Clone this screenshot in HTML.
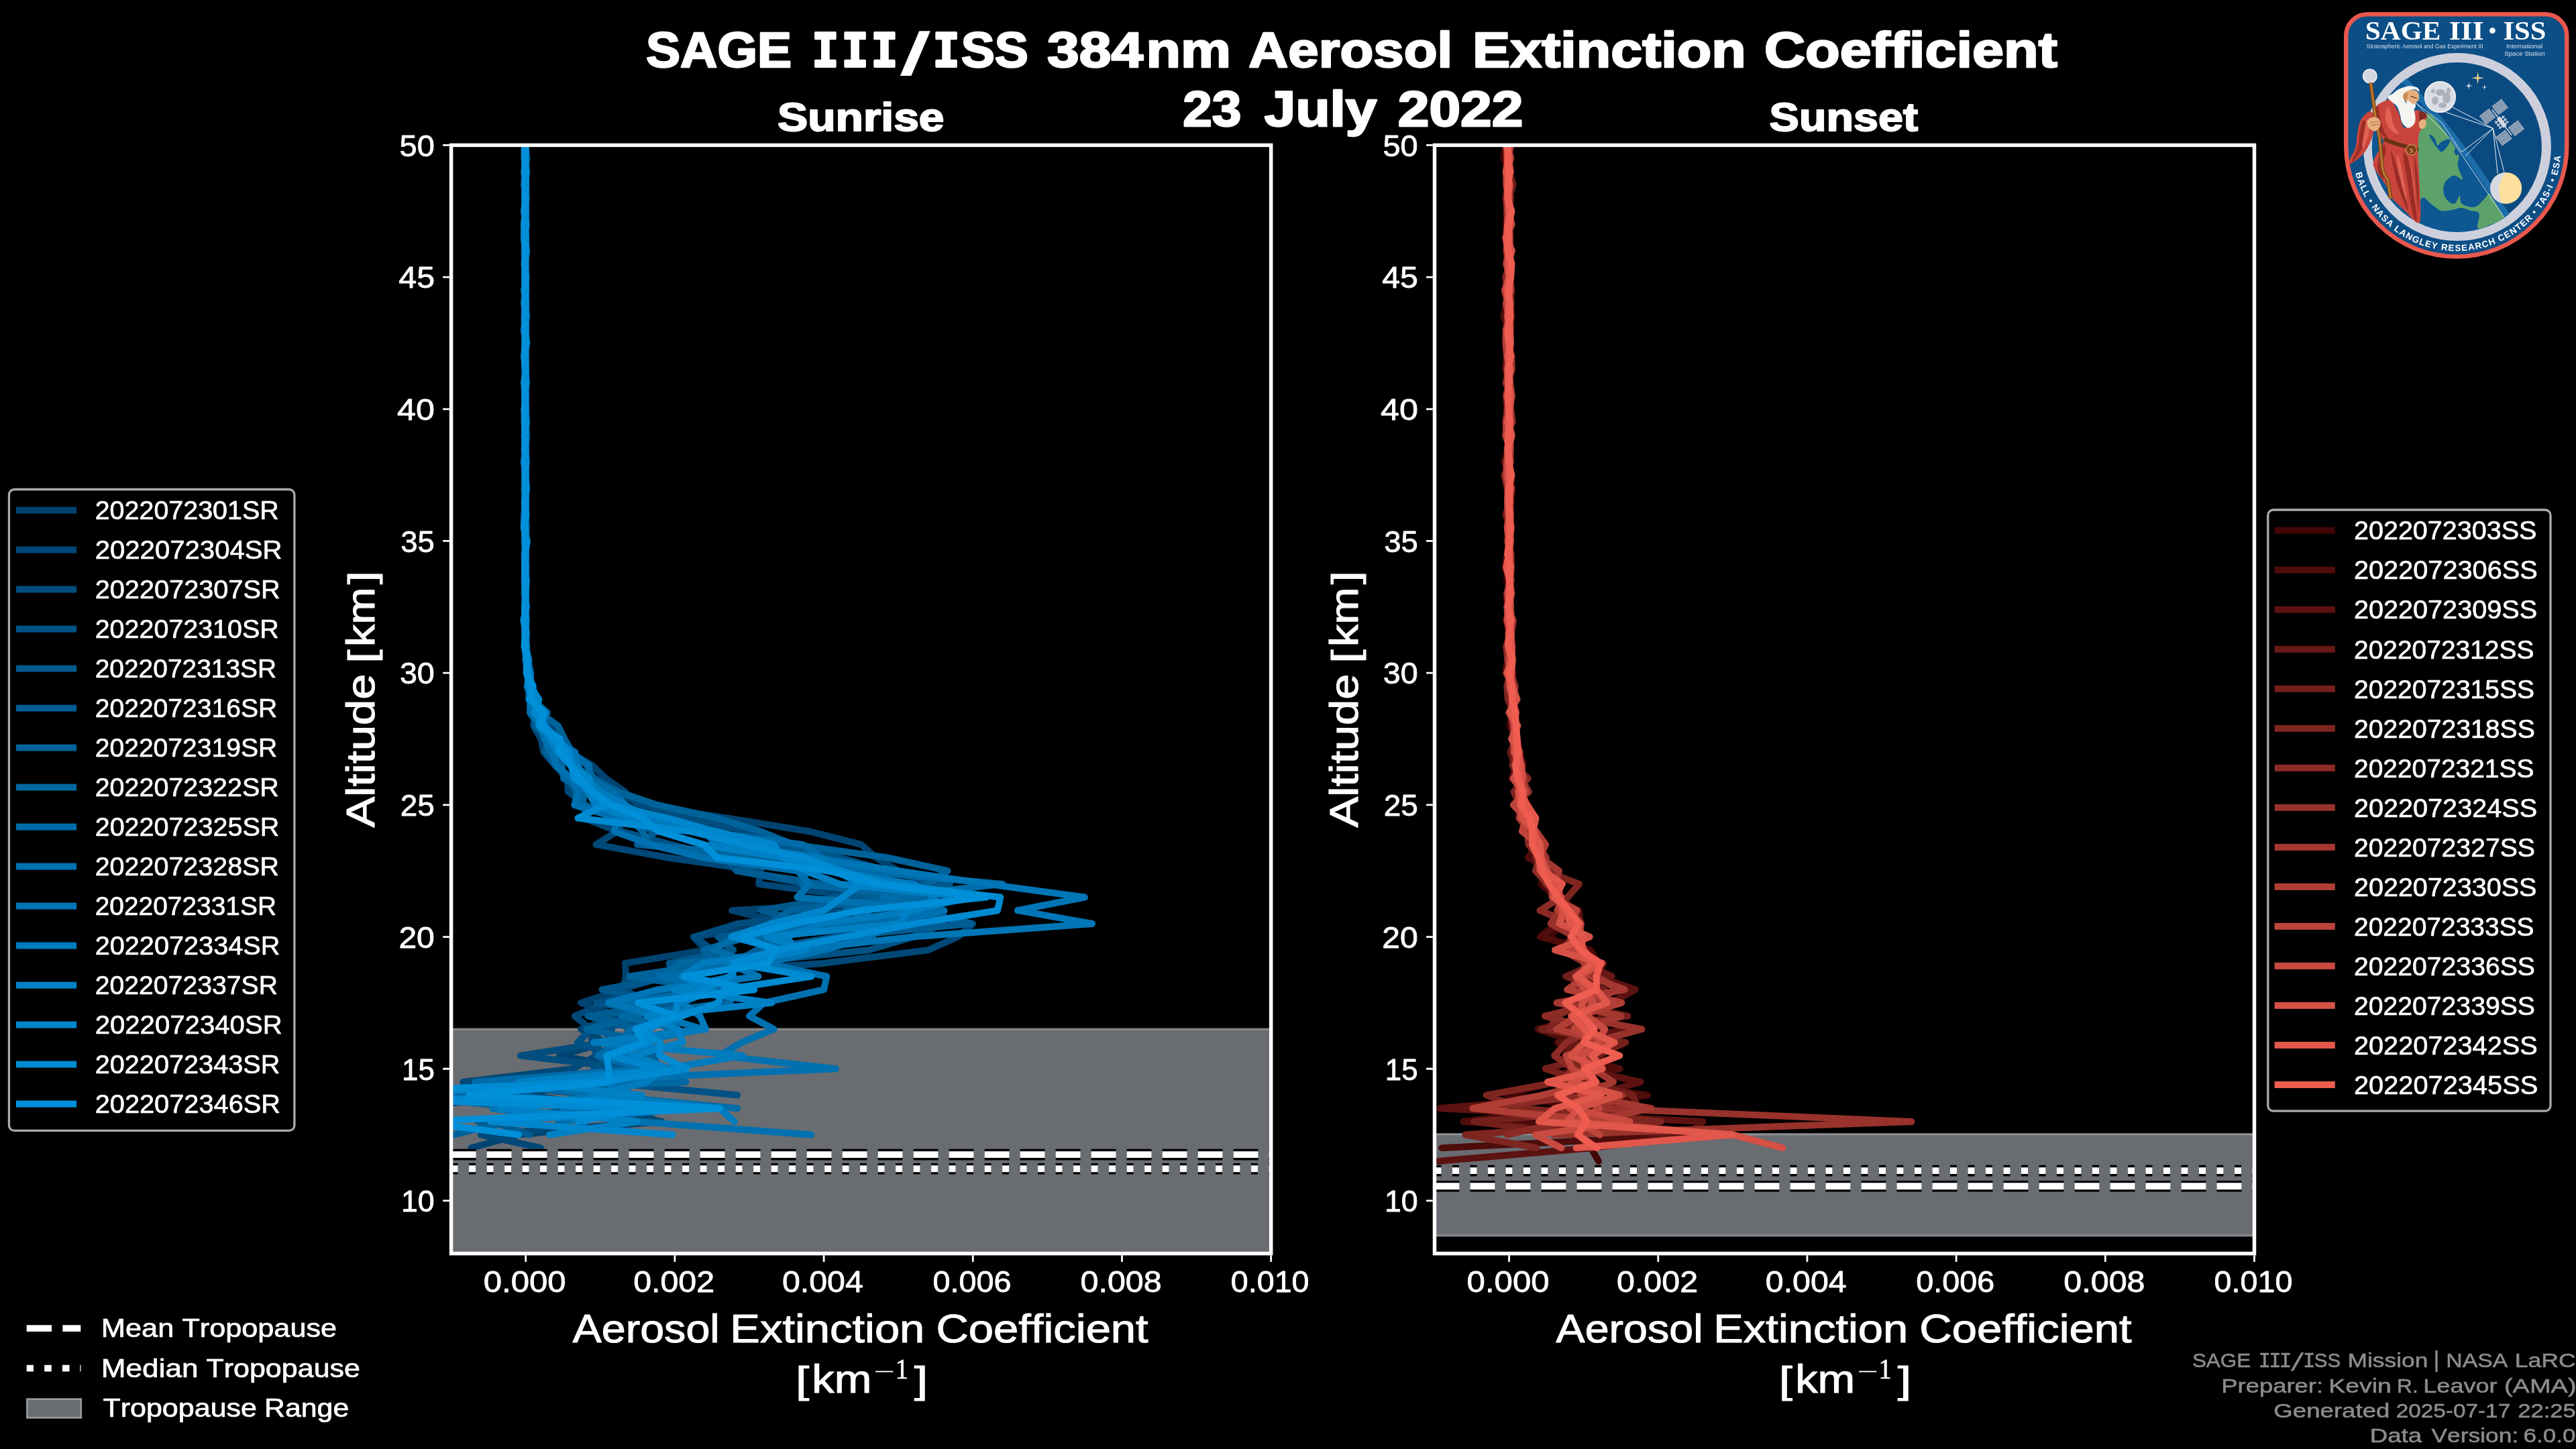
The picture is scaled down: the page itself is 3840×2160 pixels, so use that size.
<!DOCTYPE html>
<html><head><meta charset="utf-8"><title>SAGE III/ISS 384nm Aerosol Extinction Coefficient</title>
<style>html,body{margin:0;padding:0;background:#000;width:3840px;height:2160px;overflow:hidden}svg text{white-space:pre}</style></head>
<body>
<svg width="3840" height="2160" viewBox="0 0 3840 2160" style="position:absolute;left:0;top:0;font-kerning:none;font-variant-ligatures:none;">
<g style="will-change:transform">
<defs>
<clipPath id="cl"><rect x="672.6" y="216.4" width="1222.1" height="1652.1999999999998"/></clipPath>
<clipPath id="cr"><rect x="2138.5" y="216.4" width="1222.0" height="1652.1999999999998"/></clipPath>
</defs>
<g clip-path="url(#cl)"><rect x="672.6" y="1534.23" width="1222.1" height="413.05" fill="#696c71"/><rect x="672.6" y="1532.53" width="1222.1" height="2.0" fill="#7a7d81"/><rect x="672.6" y="1534.53" width="1222.1" height="1.1" fill="#a0a3a6"/><rect x="672.6" y="1946.98" width="1222.1" height="2.0" fill="#7a7d81"/><rect x="672.6" y="1945.88" width="1222.1" height="1.1" fill="#a0a3a6"/></g>
<g clip-path="url(#cr)"><rect x="2138.5" y="1690.79" width="1222.0" height="151.06" fill="#696c71"/><rect x="2138.5" y="1689.09" width="1222.0" height="2.0" fill="#7a7d81"/><rect x="2138.5" y="1691.09" width="1222.0" height="1.1" fill="#a0a3a6"/><rect x="2138.5" y="1841.55" width="1222.0" height="2.0" fill="#7a7d81"/><rect x="2138.5" y="1840.45" width="1222.0" height="1.1" fill="#a0a3a6"/></g>
<g clip-path="url(#cl)" fill="none" stroke-width="10" stroke-linejoin="round" stroke-linecap="round">
<polyline points="782.8,216.4 783.9,236.1 783.5,255.7 782.3,275.4 782.8,295.1 782.5,314.7 783.5,334.4 782.7,354.1 783.6,373.8 781.2,393.4 784.7,413.1 782.3,432.8 783.7,452.4 782.6,472.1 782.8,491.8 783.4,511.4 783.5,531.1 782.7,550.8 783.0,570.4 783.6,590.1 782.1,609.8 782.1,629.4 783.7,649.1 782.3,668.8 781.7,688.5 782.8,708.1 782.8,727.8 782.2,747.5 782.1,767.1 783.5,786.8 783.8,806.5 782.8,826.1 782.7,845.8 783.7,865.5 783.7,885.1 782.8,904.8 783.8,924.5 784.0,944.2 782.8,963.8 784.1,983.5 788.2,1003.2 791.7,1022.8 802.8,1042.5 803.7,1062.2 825.8,1081.8 838.4,1101.5 849.3,1121.2 882.5,1140.8 903.3,1160.5 931.5,1180.2 950.4,1199.9 1083.7,1219.5 1205.9,1239.2 1283.7,1258.9 1305.9,1278.5 1339.2,1298.2 1383.6,1317.9 1439.2,1337.5 1091.2,1357.2 1173.2,1376.9 1033.7,1396.5 1051.8,1416.2 932.0,1435.9 933.0,1455.5 927.7,1475.2 865.9,1494.9 922.1,1514.6 866.0,1534.2 902.2,1553.9 834.1,1573.6 941.3,1593.2 864.0,1612.9 785.3,1632.6 931.7,1652.2 982.8,1671.9 772.6,1691.6 702.6,1711.2" stroke="#004370"/>
<polyline points="783.5,216.4 783.0,236.1 782.7,255.7 782.1,275.4 784.1,295.1 781.5,314.7 783.7,334.4 783.7,354.1 781.4,373.8 783.1,393.4 781.8,413.1 783.5,432.8 784.0,452.4 784.3,472.1 781.1,491.8 783.1,511.4 783.6,531.1 784.1,550.8 783.0,570.4 782.4,590.1 783.5,609.8 782.9,629.4 782.9,649.1 782.5,668.8 783.6,688.5 783.2,708.1 783.0,727.8 783.0,747.5 782.1,767.1 783.0,786.8 784.2,806.5 782.7,826.1 782.1,845.8 784.7,865.5 783.2,885.1 785.1,904.8 782.7,924.5 783.0,944.2 782.0,963.8 787.7,983.5 791.4,1003.2 785.5,1022.8 791.0,1042.5 797.3,1062.2 795.2,1081.8 806.4,1101.5 810.4,1121.2 827.3,1140.8 845.6,1160.5 846.9,1180.2 873.1,1199.9 871.0,1219.5 920.2,1239.2 888.6,1258.9 996.1,1278.5 1134.0,1298.2 1131.0,1317.9 1283.6,1337.5 1353.6,1357.2 1450.3,1376.9 1428.1,1396.5 1383.6,1416.2 1228.1,1435.9 943.0,1455.5 921.3,1475.2 903.6,1494.9 856.8,1514.6 880.5,1534.2 882.7,1553.9 889.9,1573.6 853.9,1593.2 690.5,1612.9 891.2,1632.6 831.2,1652.2 986.8,1671.9 717.0,1691.6 805.9,1711.2" stroke="#004877"/>
<polyline points="782.3,216.4 784.6,236.1 782.9,255.7 784.3,275.4 784.2,295.1 781.9,314.7 783.5,334.4 783.1,354.1 783.3,373.8 783.3,393.4 783.0,413.1 783.1,432.8 781.7,452.4 783.2,472.1 782.3,491.8 783.3,511.4 782.6,531.1 783.7,550.8 783.5,570.4 783.2,590.1 783.3,609.8 783.1,629.4 782.7,649.1 783.1,668.8 782.7,688.5 783.6,708.1 783.0,727.8 783.7,747.5 781.9,767.1 784.3,786.8 782.2,806.5 782.9,826.1 783.1,845.8 782.8,865.5 783.6,885.1 782.6,904.8 782.5,924.5 782.7,944.2 784.6,963.8 784.5,983.5 784.7,1003.2 791.6,1022.8 791.4,1042.5 816.2,1062.2 808.8,1081.8 840.8,1101.5 849.8,1121.2 851.3,1140.8 888.1,1160.5 916.4,1180.2 959.2,1199.9 1027.4,1219.5 1113.8,1239.2 1158.6,1258.9 1251.9,1278.5 1324.0,1298.2 1397.9,1317.9 1243.3,1337.5 1264.9,1357.2 1100.2,1376.9 1035.7,1396.5 1062.1,1416.2 1069.7,1435.9 992.2,1455.5 924.7,1475.2 976.7,1494.9 887.8,1514.6 912.0,1534.2 903.1,1553.9 775.8,1573.6 942.1,1593.2 746.2,1612.9 785.8,1632.6 592.3,1652.2 631.2,1671.9" stroke="#004d7e"/>
<polyline points="782.0,216.4 783.6,236.1 783.8,255.7 782.5,275.4 783.8,295.1 782.3,314.7 781.5,334.4 783.4,354.1 783.1,373.8 782.5,393.4 783.3,413.1 783.3,432.8 782.1,452.4 782.0,472.1 783.0,491.8 782.7,511.4 782.7,531.1 783.9,550.8 784.2,570.4 782.3,590.1 783.8,609.8 783.6,629.4 783.5,649.1 783.8,668.8 782.5,688.5 783.9,708.1 784.6,727.8 783.3,747.5 782.5,767.1 783.8,786.8 784.0,806.5 783.2,826.1 782.7,845.8 784.7,865.5 781.6,885.1 784.1,904.8 782.9,924.5 782.3,944.2 784.6,963.8 785.0,983.5 784.8,1003.2 792.4,1022.8 790.2,1042.5 789.8,1062.2 802.6,1081.8 812.1,1101.5 823.0,1121.2 832.3,1140.8 845.4,1160.5 862.1,1180.2 871.4,1199.9 917.5,1219.5 925.4,1239.2 999.1,1258.9 1080.4,1278.5 1097.8,1298.2 1203.9,1317.9 1379.0,1337.5 1405.9,1357.2 1406.5,1376.9 1361.4,1396.5 1294.8,1416.2 1103.6,1435.9 991.5,1455.5 1020.4,1475.2 889.3,1494.9 1006.8,1514.6 881.4,1534.2 861.0,1553.9 915.9,1573.6 885.0,1593.2 897.3,1612.9 1099.2,1632.6" stroke="#005285"/>
<polyline points="783.2,216.4 785.6,236.1 781.1,255.7 783.7,275.4 782.4,295.1 783.2,314.7 781.4,334.4 782.5,354.1 783.5,373.8 782.8,393.4 784.4,413.1 782.0,432.8 783.4,452.4 785.3,472.1 781.7,491.8 782.7,511.4 783.1,531.1 783.0,550.8 783.8,570.4 783.0,590.1 782.5,609.8 783.5,629.4 785.2,649.1 783.6,668.8 780.6,688.5 783.8,708.1 782.2,727.8 784.0,747.5 782.8,767.1 785.0,786.8 783.5,806.5 783.9,826.1 783.2,845.8 783.2,865.5 783.6,885.1 784.3,904.8 783.4,924.5 782.9,944.2 784.5,963.8 784.7,983.5 786.7,1003.2 788.2,1022.8 794.4,1042.5 802.2,1062.2 802.6,1081.8 839.4,1101.5 842.1,1121.2 851.5,1140.8 879.8,1160.5 892.0,1180.2 930.2,1199.9 946.6,1219.5 1071.7,1239.2 1131.3,1258.9 1242.5,1278.5 1324.5,1298.2 1415.8,1317.9 1250.1,1337.5 1135.3,1357.2 1206.6,1376.9 1070.8,1396.5 1093.2,1416.2 997.4,1435.9 1003.5,1455.5 897.7,1475.2 989.1,1494.9 897.2,1514.6 940.6,1534.2 921.5,1553.9 890.2,1573.6 921.4,1593.2 855.7,1612.9 948.8,1632.6 869.1,1652.2 712.7,1671.9" stroke="#00588c"/>
<polyline points="782.4,216.4 784.3,236.1 782.3,255.7 783.8,275.4 782.9,295.1 782.4,314.7 782.4,334.4 783.1,354.1 783.0,373.8 783.4,393.4 781.8,413.1 782.8,432.8 782.9,452.4 784.3,472.1 780.6,491.8 784.0,511.4 782.2,531.1 783.6,550.8 782.4,570.4 783.5,590.1 784.2,609.8 783.0,629.4 783.4,649.1 783.3,668.8 782.4,688.5 783.8,708.1 782.7,727.8 782.5,747.5 783.3,767.1 782.9,786.8 783.9,806.5 782.9,826.1 782.8,845.8 784.6,865.5 783.7,885.1 784.2,904.8 783.5,924.5 783.1,944.2 782.9,963.8 784.9,983.5 789.1,1003.2 789.3,1022.8 787.8,1042.5 799.5,1062.2 797.1,1081.8 816.1,1101.5 813.3,1121.2 828.5,1140.8 850.1,1160.5 857.5,1180.2 862.1,1199.9 920.2,1219.5 979.1,1239.2 949.8,1258.9 1164.5,1278.5 1099.2,1298.2 1225.4,1317.9 1310.0,1337.5 1358.2,1357.2 1447.3,1376.9 1248.3,1396.5 1128.5,1416.2 1092.2,1435.9 987.0,1455.5 1025.7,1475.2 1021.4,1494.9 876.4,1514.6 950.3,1534.2 938.1,1553.9 974.6,1573.6 981.7,1593.2 815.2,1612.9 770.2,1632.6 934.2,1652.2 733.0,1671.9 789.2,1691.6" stroke="#005d93"/>
<polyline points="783.7,216.4 783.9,236.1 782.7,255.7 782.7,275.4 783.3,295.1 781.2,314.7 783.4,334.4 781.9,354.1 785.1,373.8 782.8,393.4 783.1,413.1 782.7,432.8 781.0,452.4 784.1,472.1 784.0,491.8 782.1,511.4 783.8,531.1 783.4,550.8 781.6,570.4 784.2,590.1 783.8,609.8 783.0,629.4 783.0,649.1 783.8,668.8 781.6,688.5 783.6,708.1 783.9,727.8 781.8,747.5 784.4,767.1 782.4,786.8 781.6,806.5 783.6,826.1 782.2,845.8 783.8,865.5 782.0,885.1 784.5,904.8 782.2,924.5 783.9,944.2 782.5,963.8 785.0,983.5 789.6,1003.2 790.9,1022.8 797.3,1042.5 804.3,1062.2 831.7,1081.8 841.5,1101.5 852.8,1121.2 875.2,1140.8 884.2,1160.5 921.4,1180.2 979.7,1199.9 1069.0,1219.5 1133.3,1239.2 1183.0,1258.9 1322.8,1278.5 1412.5,1298.2 1382.4,1317.9 1337.2,1337.5 1177.2,1357.2 1148.1,1376.9 1115.4,1396.5 1049.0,1416.2 1069.5,1435.9 938.2,1455.5 1072.3,1475.2 916.6,1494.9 953.5,1514.6 874.4,1534.2 971.3,1553.9 964.1,1573.6 959.4,1593.2 931.4,1612.9 589.5,1632.6 787.4,1652.2 757.4,1671.9 675.5,1691.6" stroke="#00629a"/>
<polyline points="783.7,216.4 782.7,236.1 782.9,255.7 783.3,275.4 782.0,295.1 782.5,314.7 782.4,334.4 783.5,354.1 783.0,373.8 783.4,393.4 783.7,413.1 781.7,432.8 782.9,452.4 783.1,472.1 781.9,491.8 782.9,511.4 783.9,531.1 783.7,550.8 783.8,570.4 782.9,590.1 783.0,609.8 784.0,629.4 782.5,649.1 783.6,668.8 784.1,688.5 782.5,708.1 782.8,727.8 783.2,747.5 783.7,767.1 783.4,786.8 783.2,806.5 783.7,826.1 781.7,845.8 782.9,865.5 783.5,885.1 782.4,904.8 782.3,924.5 782.5,944.2 782.7,963.8 785.1,983.5 784.7,1003.2 791.2,1022.8 797.7,1042.5 796.2,1062.2 813.1,1081.8 814.0,1101.5 818.1,1121.2 837.4,1140.8 840.2,1160.5 872.4,1180.2 867.1,1199.9 937.7,1219.5 957.9,1239.2 967.8,1258.9 1140.5,1278.5 1202.5,1298.2 1195.7,1317.9 1391.4,1337.5 1260.8,1357.2 1340.1,1376.9 1116.9,1396.5 1202.2,1416.2 1012.1,1435.9 990.3,1455.5 1088.5,1475.2 1088.8,1494.9 926.2,1514.6 1010.9,1534.2 939.4,1553.9 926.8,1573.6 977.6,1593.2 1022.4,1612.9 609.8,1632.6 1016.5,1652.2 832.5,1671.9" stroke="#0067a1"/>
<polyline points="781.7,216.4 784.4,236.1 783.8,255.7 781.7,275.4 784.5,295.1 782.4,314.7 782.9,334.4 784.0,354.1 782.7,373.8 783.2,393.4 784.0,413.1 783.6,432.8 783.4,452.4 781.6,472.1 782.0,491.8 784.1,511.4 781.8,531.1 783.4,550.8 782.0,570.4 783.2,590.1 781.9,609.8 784.7,629.4 781.7,649.1 783.4,668.8 782.8,688.5 784.2,708.1 781.5,727.8 783.5,747.5 782.8,767.1 783.7,786.8 783.4,806.5 782.7,826.1 783.5,845.8 782.7,865.5 783.7,885.1 782.9,904.8 782.7,924.5 783.3,944.2 783.5,963.8 788.5,983.5 784.8,1003.2 792.9,1022.8 800.8,1042.5 796.2,1062.2 813.5,1081.8 827.9,1101.5 848.6,1121.2 878.4,1140.8 876.2,1160.5 913.5,1180.2 932.7,1199.9 966.3,1219.5 1046.1,1239.2 1196.5,1258.9 1225.1,1278.5 1281.0,1298.2 1494.6,1317.9 1316.1,1337.5 1392.8,1357.2 1266.6,1376.9 1095.9,1396.5 1063.9,1416.2 1122.1,1435.9 982.3,1455.5 1077.4,1475.2 928.9,1494.9 1013.0,1514.6 940.5,1534.2 926.7,1553.9 891.9,1573.6 957.9,1593.2 708.4,1612.9 895.4,1632.6 1099.2,1652.2" stroke="#006ca9"/>
<polyline points="783.4,216.4 781.7,236.1 784.6,255.7 782.1,275.4 782.2,295.1 784.2,314.7 783.9,334.4 782.5,354.1 782.4,373.8 783.1,393.4 782.4,413.1 782.9,432.8 784.3,452.4 782.9,472.1 783.2,491.8 783.3,511.4 782.9,531.1 783.8,550.8 783.6,570.4 782.6,590.1 783.3,609.8 785.0,629.4 782.9,649.1 783.0,668.8 784.9,688.5 782.6,708.1 782.4,727.8 784.0,747.5 782.1,767.1 783.1,786.8 783.5,806.5 783.0,826.1 782.6,845.8 782.9,865.5 782.8,885.1 784.4,904.8 782.3,924.5 783.1,944.2 785.2,963.8 783.3,983.5 790.8,1003.2 791.5,1022.8 790.7,1042.5 790.9,1062.2 806.9,1081.8 811.5,1101.5 823.9,1121.2 828.6,1140.8 852.0,1160.5 862.4,1180.2 856.2,1199.9 919.9,1219.5 915.7,1239.2 969.5,1258.9 1047.8,1278.5 1189.1,1298.2 1206.8,1317.9 1188.5,1337.5 1407.6,1357.2 1328.4,1376.9 1296.4,1396.5 1228.0,1416.2 1139.1,1435.9 1232.3,1455.5 1228.1,1475.2 1139.2,1494.9 1117.0,1514.6 1153.7,1534.2 1105.9,1553.9 1072.6,1573.6 1245.9,1593.2 805.9,1612.9 917.0,1632.6 839.2,1652.2 950.4,1671.9 1209.2,1691.6" stroke="#0071b0"/>
<polyline points="782.5,216.4 782.6,236.1 783.0,255.7 781.2,275.4 784.5,295.1 781.6,314.7 782.7,334.4 783.9,354.1 782.7,373.8 782.9,393.4 782.4,413.1 781.7,432.8 783.4,452.4 783.7,472.1 781.9,491.8 784.3,511.4 781.6,531.1 782.7,550.8 783.4,570.4 782.8,590.1 783.6,609.8 782.2,629.4 782.4,649.1 781.6,668.8 782.4,688.5 782.3,708.1 782.1,727.8 783.6,747.5 782.3,767.1 781.6,786.8 785.7,806.5 781.6,826.1 782.5,845.8 784.4,865.5 783.8,885.1 782.0,904.8 782.2,924.5 782.6,944.2 784.4,963.8 784.2,983.5 786.1,1003.2 791.4,1022.8 798.6,1042.5 796.6,1062.2 813.7,1081.8 818.2,1101.5 857.2,1121.2 861.1,1140.8 872.1,1160.5 884.6,1180.2 919.6,1199.9 917.3,1219.5 1049.8,1239.2 1068.4,1258.9 1205.9,1278.5 1339.2,1298.2 1472.5,1317.9 1617.0,1337.5 1517.0,1357.2 1628.1,1376.9 1361.4,1396.5 1183.7,1416.2 1084.3,1435.9 1130.5,1455.5 981.1,1475.2 907.1,1494.9 981.7,1514.6 1048.2,1534.2 943.4,1553.9 931.9,1573.6 990.8,1593.2 914.8,1612.9 907.3,1632.6 734.0,1652.2 872.4,1671.9" stroke="#0076b7"/>
<polyline points="783.0,216.4 782.3,236.1 782.1,255.7 783.2,275.4 783.5,295.1 783.2,314.7 783.2,334.4 783.2,354.1 784.9,373.8 782.5,393.4 783.9,413.1 784.2,432.8 782.6,452.4 783.3,472.1 783.7,491.8 784.1,511.4 782.9,531.1 783.3,550.8 783.0,570.4 782.0,590.1 784.3,609.8 782.5,629.4 781.8,649.1 783.3,668.8 781.5,688.5 782.7,708.1 783.3,727.8 782.3,747.5 784.3,767.1 781.5,786.8 783.9,806.5 783.4,826.1 784.4,845.8 783.7,865.5 783.3,885.1 783.3,904.8 783.2,924.5 784.3,944.2 782.4,963.8 786.4,983.5 786.3,1003.2 791.7,1022.8 794.2,1042.5 813.9,1062.2 808.6,1081.8 832.5,1101.5 842.7,1121.2 858.8,1140.8 872.9,1160.5 894.7,1180.2 932.6,1199.9 950.9,1219.5 1064.8,1239.2 1085.2,1258.9 1219.0,1278.5 1232.0,1298.2 1362.8,1317.9 1393.1,1337.5 1370.2,1357.2 1223.6,1376.9 1172.3,1396.5 1187.6,1416.2 1048.1,1435.9 1015.8,1455.5 1063.4,1475.2 1015.9,1494.9 1043.4,1514.6 1052.2,1534.2 885.2,1553.9 1107.0,1573.6 991.7,1593.2 963.9,1612.9 883.9,1632.6 1072.6,1652.2 1094.8,1671.9" stroke="#007bbe"/>
<polyline points="782.5,216.4 783.1,236.1 781.7,255.7 783.6,275.4 782.6,295.1 783.2,314.7 783.1,334.4 782.0,354.1 784.2,373.8 781.7,393.4 784.0,413.1 781.3,432.8 783.7,452.4 782.1,472.1 783.3,491.8 782.4,511.4 781.4,531.1 782.6,550.8 783.2,570.4 783.5,590.1 781.7,609.8 781.7,629.4 782.8,649.1 783.0,668.8 782.6,688.5 782.6,708.1 784.0,727.8 783.7,747.5 783.6,767.1 782.2,786.8 783.5,806.5 782.9,826.1 782.0,845.8 784.3,865.5 783.0,885.1 782.9,904.8 784.6,924.5 783.5,944.2 783.9,963.8 786.6,983.5 788.0,1003.2 786.4,1022.8 793.4,1042.5 804.6,1062.2 802.9,1081.8 820.7,1101.5 831.9,1121.2 852.4,1140.8 861.9,1160.5 876.5,1180.2 887.8,1199.9 940.4,1219.5 984.4,1239.2 1046.5,1258.9 1171.5,1278.5 1199.8,1298.2 1251.6,1317.9 1450.7,1337.5 1353.3,1357.2 1342.2,1376.9 1143.1,1396.5 1202.4,1416.2 1092.5,1435.9 1092.8,1455.5 1005.4,1475.2 1150.4,1494.9 964.4,1514.6 1010.2,1534.2 1018.0,1553.9 942.6,1573.6 998.3,1593.2 774.4,1612.9 957.0,1632.6 746.8,1652.2 950.0,1671.9 819.2,1691.6" stroke="#0081c5"/>
<polyline points="781.7,216.4 781.7,236.1 782.3,255.7 783.5,275.4 782.9,295.1 783.1,314.7 781.2,334.4 781.2,354.1 782.9,373.8 782.6,393.4 782.5,413.1 783.3,432.8 782.7,452.4 782.0,472.1 782.5,491.8 783.2,511.4 782.9,531.1 782.9,550.8 784.9,570.4 782.2,590.1 783.4,609.8 782.1,629.4 783.0,649.1 783.5,668.8 783.4,688.5 782.8,708.1 783.5,727.8 783.0,747.5 781.5,767.1 780.8,786.8 785.8,806.5 783.1,826.1 783.1,845.8 781.7,865.5 782.5,885.1 784.6,904.8 780.3,924.5 783.8,944.2 783.8,963.8 785.1,983.5 788.8,1003.2 789.9,1022.8 803.4,1042.5 796.8,1062.2 810.1,1081.8 830.8,1101.5 849.7,1121.2 850.8,1140.8 878.8,1160.5 881.7,1180.2 909.2,1199.9 995.0,1219.5 1065.2,1239.2 1153.4,1258.9 1166.4,1278.5 1245.3,1298.2 1283.7,1317.9 1255.9,1337.5 1228.1,1357.2 1150.3,1376.9 1090.3,1396.5 1165.8,1416.2 1097.1,1435.9 1088.1,1455.5 1046.4,1475.2 1009.4,1494.9 1007.2,1514.6 967.5,1534.2 969.6,1553.9 908.8,1573.6 981.7,1593.2 872.9,1612.9 561.6,1632.6 1023.7,1652.2 731.8,1671.9 1002.6,1691.6" stroke="#0086cc"/>
<polyline points="782.6,216.4 782.7,236.1 783.0,255.7 782.7,275.4 782.5,295.1 781.5,314.7 784.7,334.4 781.0,354.1 783.1,373.8 783.3,393.4 783.0,413.1 783.3,432.8 783.4,452.4 783.8,472.1 782.9,491.8 785.3,511.4 781.4,531.1 783.6,550.8 782.5,570.4 782.7,590.1 783.3,609.8 784.1,629.4 782.1,649.1 782.7,668.8 783.8,688.5 783.3,708.1 784.7,727.8 783.5,747.5 783.2,767.1 782.8,786.8 783.4,806.5 782.9,826.1 782.0,845.8 783.5,865.5 782.9,885.1 783.1,904.8 782.9,924.5 784.8,944.2 783.4,963.8 786.6,983.5 785.4,1003.2 788.8,1022.8 794.2,1042.5 804.4,1062.2 810.1,1081.8 825.0,1101.5 844.9,1121.2 851.5,1140.8 856.3,1160.5 883.5,1180.2 902.3,1199.9 861.5,1219.5 1028.1,1239.2 1110.3,1258.9 1197.0,1278.5 1253.4,1298.2 1320.6,1317.9 1491.4,1337.5 1487.0,1357.2 1364.8,1376.9 1260.3,1396.5 1157.6,1416.2 1093.1,1435.9 1209.8,1455.5 1079.7,1475.2 1070.2,1494.9 1016.7,1514.6 951.8,1534.2 984.0,1553.9 983.1,1573.6 1023.5,1593.2 896.9,1612.9 422.9,1632.6 962.7,1652.2 862.1,1671.9" stroke="#008bd3"/>
<polyline points="783.8,216.4 783.0,236.1 784.7,255.7 783.4,275.4 783.7,295.1 783.3,314.7 781.6,334.4 783.9,354.1 783.0,373.8 782.4,393.4 783.5,413.1 783.1,432.8 782.5,452.4 783.0,472.1 782.7,491.8 783.2,511.4 782.5,531.1 783.6,550.8 781.2,570.4 783.3,590.1 781.5,609.8 783.1,629.4 783.5,649.1 783.0,668.8 783.0,688.5 783.2,708.1 784.4,727.8 781.8,747.5 784.3,767.1 781.5,786.8 783.2,806.5 783.3,826.1 782.4,845.8 783.6,865.5 783.7,885.1 782.0,904.8 783.5,924.5 782.8,944.2 781.6,963.8 785.7,983.5 785.2,1003.2 794.8,1022.8 789.2,1042.5 810.5,1062.2 804.2,1081.8 835.0,1101.5 832.8,1121.2 850.1,1140.8 864.5,1160.5 883.5,1180.2 911.2,1199.9 958.0,1219.5 982.0,1239.2 1048.3,1258.9 1068.8,1278.5 1237.0,1298.2 1305.9,1317.9 1470.3,1337.5 1283.7,1357.2 1183.7,1376.9 1105.9,1396.5 1156.4,1416.2 1144.8,1435.9 1019.8,1455.5 1124.2,1475.2 951.2,1494.9 1006.9,1514.6 947.9,1534.2 960.6,1553.9 904.6,1573.6 907.3,1593.2 907.9,1612.9 698.9,1632.6 1072.6,1652.2 623.2,1671.9 772.9,1691.6" stroke="#0090da"/>
</g>
<g clip-path="url(#cr)" fill="none" stroke-width="10" stroke-linejoin="round" stroke-linecap="round">
<polyline points="2244.7,216.4 2241.2,236.1 2248.6,255.7 2248.8,275.4 2243.4,295.1 2249.0,314.7 2244.3,334.4 2248.8,354.1 2249.1,373.8 2249.5,393.4 2249.3,413.1 2245.9,432.8 2251.4,452.4 2246.4,472.1 2249.8,491.8 2250.2,511.4 2247.1,531.1 2244.9,550.8 2251.1,570.4 2244.7,590.1 2246.7,609.8 2245.7,629.4 2251.7,649.1 2247.5,668.8 2242.2,688.5 2252.2,708.1 2254.3,727.8 2253.1,747.5 2246.3,767.1 2249.6,786.8 2250.3,806.5 2251.3,826.1 2248.6,845.8 2245.8,865.5 2251.9,885.1 2250.5,904.8 2244.7,924.5 2249.2,944.2 2250.7,963.8 2249.6,983.5 2252.0,1003.2 2254.2,1022.8 2254.7,1042.5 2253.7,1062.2 2250.4,1081.8 2261.6,1101.5 2265.8,1121.2 2271.2,1140.8 2261.8,1160.5 2266.4,1180.2 2278.0,1199.9 2283.2,1219.5 2281.8,1239.2 2293.4,1258.9 2284.7,1278.5 2307.8,1298.2 2297.0,1317.9 2318.4,1337.5 2324.6,1357.2 2329.0,1376.9 2309.6,1396.5 2342.4,1416.2 2365.8,1435.9 2357.4,1455.5 2355.8,1475.2 2375.7,1494.9 2373.9,1514.6 2382.8,1534.2 2321.4,1553.9 2364.0,1573.6 2340.0,1593.2 2315.6,1612.9 2246.0,1632.6 2369.1,1652.2 2247.4,1671.9 2427.3,1691.6 2371.8,1711.2 2382.9,1730.9" stroke="#420606"/>
<polyline points="2253.5,216.4 2244.3,236.1 2248.4,255.7 2245.8,275.4 2248.3,295.1 2248.1,314.7 2251.4,334.4 2243.5,354.1 2249.2,373.8 2252.8,393.4 2246.0,413.1 2248.4,432.8 2245.9,452.4 2241.4,472.1 2249.6,491.8 2251.7,511.4 2246.6,531.1 2243.6,550.8 2250.4,570.4 2248.5,590.1 2251.6,609.8 2250.8,629.4 2247.6,649.1 2250.2,668.8 2243.3,688.5 2253.2,708.1 2248.6,727.8 2252.1,747.5 2251.4,767.1 2247.7,786.8 2248.8,806.5 2246.5,826.1 2243.6,845.8 2249.8,865.5 2249.5,885.1 2246.0,904.8 2252.4,924.5 2249.4,944.2 2251.4,963.8 2247.0,983.5 2244.4,1003.2 2255.8,1022.8 2254.7,1042.5 2254.0,1062.2 2254.7,1081.8 2256.9,1101.5 2259.5,1121.2 2259.6,1140.8 2253.5,1160.5 2273.5,1180.2 2257.3,1199.9 2275.0,1219.5 2278.8,1239.2 2290.4,1258.9 2278.1,1278.5 2315.9,1298.2 2313.3,1317.9 2327.5,1337.5 2343.7,1357.2 2320.9,1376.9 2296.0,1396.5 2370.5,1416.2 2382.7,1435.9 2386.0,1455.5 2347.9,1475.2 2363.4,1494.9 2364.9,1514.6 2292.9,1534.2 2349.7,1553.9 2337.3,1573.6 2414.8,1593.2 2311.4,1612.9 2455.7,1632.6 2329.9,1652.2 2181.5,1671.9 2538.4,1691.6 2149.3,1711.2" stroke="#4e0c0b"/>
<polyline points="2253.8,216.4 2246.6,236.1 2246.2,255.7 2252.7,275.4 2248.7,295.1 2245.9,314.7 2246.9,334.4 2248.7,354.1 2252.1,373.8 2248.0,393.4 2251.5,413.1 2253.6,432.8 2252.2,452.4 2253.0,472.1 2252.3,491.8 2244.5,511.4 2254.0,531.1 2249.6,550.8 2249.3,570.4 2246.7,590.1 2245.9,609.8 2247.4,629.4 2250.2,649.1 2246.4,668.8 2248.2,688.5 2248.5,708.1 2252.1,727.8 2248.7,747.5 2249.8,767.1 2253.7,786.8 2248.4,806.5 2252.1,826.1 2246.7,845.8 2251.7,865.5 2250.2,885.1 2250.9,904.8 2249.1,924.5 2247.9,944.2 2250.6,963.8 2249.7,983.5 2255.3,1003.2 2255.5,1022.8 2249.5,1042.5 2259.7,1062.2 2255.1,1081.8 2261.8,1101.5 2258.9,1121.2 2257.1,1140.8 2273.3,1160.5 2269.7,1180.2 2262.9,1199.9 2266.0,1219.5 2282.5,1239.2 2281.1,1258.9 2296.0,1278.5 2310.2,1298.2 2328.4,1317.9 2315.0,1337.5 2353.5,1357.2 2356.0,1376.9 2342.8,1396.5 2329.3,1416.2 2390.4,1435.9 2380.3,1455.5 2437.9,1475.2 2400.6,1494.9 2385.7,1514.6 2423.8,1534.2 2324.2,1553.9 2387.1,1573.6 2355.4,1593.2 2445.7,1612.9 2375.5,1632.6 2146.3,1652.2 2538.4,1671.9 2516.2,1691.6 2371.8,1711.2 2144.1,1730.9" stroke="#5b1211"/>
<polyline points="2248.7,216.4 2249.7,236.1 2248.4,255.7 2245.6,275.4 2252.5,295.1 2248.5,314.7 2248.2,334.4 2250.2,354.1 2246.5,373.8 2253.8,393.4 2247.9,413.1 2249.5,432.8 2249.2,452.4 2245.9,472.1 2245.9,491.8 2249.7,511.4 2249.3,531.1 2252.1,550.8 2249.2,570.4 2245.7,590.1 2250.8,609.8 2250.6,629.4 2251.2,649.1 2249.3,668.8 2245.5,688.5 2252.7,708.1 2246.2,727.8 2251.1,747.5 2244.3,767.1 2252.0,786.8 2246.4,806.5 2252.6,826.1 2253.2,845.8 2251.5,865.5 2245.6,885.1 2247.5,904.8 2247.4,924.5 2252.2,944.2 2250.5,963.8 2250.4,983.5 2251.2,1003.2 2253.6,1022.8 2255.3,1042.5 2260.8,1062.2 2254.9,1081.8 2259.0,1101.5 2251.5,1121.2 2257.6,1140.8 2261.7,1160.5 2260.4,1180.2 2271.4,1199.9 2281.5,1219.5 2276.7,1239.2 2284.8,1258.9 2290.2,1278.5 2302.5,1298.2 2303.1,1317.9 2325.1,1337.5 2330.1,1357.2 2341.9,1376.9 2358.5,1396.5 2350.3,1416.2 2360.9,1435.9 2402.8,1455.5 2357.8,1475.2 2386.4,1494.9 2352.3,1514.6 2344.1,1534.2 2347.7,1553.9 2333.0,1573.6 2360.8,1593.2 2328.5,1612.9 2322.0,1632.6 2462.6,1652.2 2316.4,1671.9 2489.5,1691.6" stroke="#671916"/>
<polyline points="2250.9,216.4 2246.7,236.1 2249.6,255.7 2255.5,275.4 2249.6,295.1 2251.3,314.7 2249.0,334.4 2251.1,354.1 2245.5,373.8 2247.5,393.4 2250.4,413.1 2250.9,432.8 2247.7,452.4 2248.9,472.1 2248.3,491.8 2248.9,511.4 2246.2,531.1 2246.1,550.8 2249.7,570.4 2244.7,590.1 2247.7,609.8 2248.0,629.4 2246.9,649.1 2250.5,668.8 2248.1,688.5 2249.6,708.1 2246.9,727.8 2248.1,747.5 2251.2,767.1 2250.2,786.8 2248.3,806.5 2250.9,826.1 2249.9,845.8 2250.1,865.5 2253.8,885.1 2248.0,904.8 2251.7,924.5 2251.2,944.2 2249.6,963.8 2247.2,983.5 2253.9,1003.2 2252.7,1022.8 2254.1,1042.5 2255.6,1062.2 2257.2,1081.8 2255.2,1101.5 2263.0,1121.2 2254.3,1140.8 2267.2,1160.5 2259.1,1180.2 2269.7,1199.9 2281.1,1219.5 2280.0,1239.2 2286.2,1258.9 2300.8,1278.5 2298.7,1298.2 2308.1,1317.9 2317.0,1337.5 2350.7,1357.2 2345.2,1376.9 2356.7,1396.5 2333.2,1416.2 2379.2,1435.9 2334.3,1455.5 2391.9,1475.2 2333.1,1494.9 2426.4,1514.6 2297.7,1534.2 2423.2,1553.9 2380.1,1573.6 2303.6,1593.2 2367.4,1612.9 2434.7,1632.6 2441.2,1652.2 2197.2,1671.9 2347.0,1691.6" stroke="#731f1b"/>
<polyline points="2244.7,216.4 2246.3,236.1 2252.2,255.7 2246.8,275.4 2247.0,295.1 2246.7,314.7 2249.3,334.4 2248.9,354.1 2245.0,373.8 2251.8,393.4 2244.1,413.1 2247.7,432.8 2248.8,452.4 2251.8,472.1 2246.1,491.8 2248.9,511.4 2250.9,531.1 2248.8,550.8 2250.5,570.4 2250.0,590.1 2248.2,609.8 2249.5,629.4 2250.0,649.1 2247.6,668.8 2252.2,688.5 2242.4,708.1 2247.0,727.8 2252.0,747.5 2248.5,767.1 2246.6,786.8 2249.6,806.5 2250.8,826.1 2246.5,845.8 2250.7,865.5 2247.7,885.1 2248.4,904.8 2248.5,924.5 2252.0,944.2 2245.1,963.8 2248.8,983.5 2251.4,1003.2 2246.3,1022.8 2247.8,1042.5 2256.6,1062.2 2254.6,1081.8 2256.3,1101.5 2259.5,1121.2 2256.3,1140.8 2278.1,1160.5 2256.5,1180.2 2266.3,1199.9 2264.4,1219.5 2278.3,1239.2 2297.1,1258.9 2289.2,1278.5 2303.5,1298.2 2354.0,1317.9 2336.9,1337.5 2321.0,1357.2 2316.6,1376.9 2357.8,1396.5 2337.3,1416.2 2365.7,1435.9 2356.1,1455.5 2367.0,1475.2 2356.4,1494.9 2321.7,1514.6 2309.4,1534.2 2391.4,1553.9 2337.0,1573.6 2357.6,1593.2 2323.1,1612.9 2215.7,1632.6 2269.9,1652.2 2475.7,1671.9 2184.6,1691.6 2290.1,1711.2" stroke="#7f2520"/>
<polyline points="2245.8,216.4 2246.5,236.1 2246.8,255.7 2247.1,275.4 2245.8,295.1 2246.2,314.7 2247.5,334.4 2248.1,354.1 2246.9,373.8 2251.7,393.4 2247.1,413.1 2247.9,432.8 2245.8,452.4 2250.3,472.1 2244.6,491.8 2244.3,511.4 2246.0,531.1 2249.5,550.8 2244.6,570.4 2251.5,590.1 2247.0,609.8 2244.3,629.4 2248.0,649.1 2252.1,668.8 2245.0,688.5 2245.4,708.1 2249.7,727.8 2250.8,747.5 2249.9,767.1 2246.9,786.8 2248.8,806.5 2248.8,826.1 2250.8,845.8 2252.8,865.5 2247.0,885.1 2251.8,904.8 2246.9,924.5 2250.5,944.2 2245.7,963.8 2247.3,983.5 2250.6,1003.2 2247.4,1022.8 2255.5,1042.5 2250.9,1062.2 2255.7,1081.8 2256.0,1101.5 2257.2,1121.2 2261.3,1140.8 2267.3,1160.5 2279.1,1180.2 2257.0,1199.9 2276.5,1219.5 2276.7,1239.2 2278.7,1258.9 2294.5,1278.5 2288.9,1298.2 2306.7,1317.9 2327.3,1337.5 2295.6,1357.2 2341.3,1376.9 2345.8,1396.5 2328.9,1416.2 2363.6,1435.9 2358.7,1455.5 2349.9,1475.2 2384.2,1494.9 2303.0,1514.6 2374.7,1534.2 2335.2,1553.9 2317.2,1573.6 2344.7,1593.2 2327.5,1612.9 2366.8,1632.6 2210.3,1652.2 2333.1,1671.9 2246.9,1691.6" stroke="#8c2b26"/>
<polyline points="2246.9,216.4 2252.5,236.1 2244.9,255.7 2251.3,275.4 2249.0,295.1 2250.7,314.7 2247.9,334.4 2245.6,354.1 2247.0,373.8 2253.3,393.4 2249.6,413.1 2247.9,432.8 2252.3,452.4 2247.7,472.1 2248.7,491.8 2247.4,511.4 2253.2,531.1 2253.9,550.8 2247.1,570.4 2251.3,590.1 2252.1,609.8 2254.6,629.4 2243.8,649.1 2251.8,668.8 2251.4,688.5 2246.6,708.1 2252.0,727.8 2250.5,747.5 2252.0,767.1 2248.7,786.8 2251.7,806.5 2248.8,826.1 2252.2,845.8 2250.5,865.5 2249.7,885.1 2247.6,904.8 2255.8,924.5 2253.1,944.2 2253.4,963.8 2249.4,983.5 2251.4,1003.2 2258.6,1022.8 2256.4,1042.5 2253.7,1062.2 2259.1,1081.8 2260.3,1101.5 2261.5,1121.2 2260.9,1140.8 2273.5,1160.5 2270.9,1180.2 2270.4,1199.9 2269.7,1219.5 2283.4,1239.2 2292.2,1258.9 2305.0,1278.5 2300.9,1298.2 2326.2,1317.9 2323.7,1337.5 2326.2,1357.2 2311.5,1376.9 2346.6,1396.5 2340.4,1416.2 2370.5,1435.9 2380.9,1455.5 2410.3,1475.2 2370.0,1494.9 2343.4,1514.6 2447.4,1534.2 2373.2,1553.9 2369.6,1573.6 2366.7,1593.2 2330.7,1612.9 2418.7,1632.6 2382.9,1652.2 2849.5,1671.9 2316.2,1691.6" stroke="#98322b"/>
<polyline points="2251.7,216.4 2247.8,236.1 2248.3,255.7 2249.1,275.4 2246.3,295.1 2249.3,314.7 2248.4,334.4 2250.8,354.1 2248.9,373.8 2245.1,393.4 2250.2,413.1 2252.3,432.8 2244.7,452.4 2248.6,472.1 2249.6,491.8 2246.5,511.4 2248.9,531.1 2249.8,550.8 2246.6,570.4 2250.8,590.1 2250.3,609.8 2246.7,629.4 2250.3,649.1 2252.0,668.8 2248.9,688.5 2250.9,708.1 2251.0,727.8 2249.1,747.5 2252.2,767.1 2250.3,786.8 2247.7,806.5 2251.6,826.1 2251.6,845.8 2251.5,865.5 2248.4,885.1 2251.7,904.8 2253.5,924.5 2250.7,944.2 2254.0,963.8 2254.0,983.5 2250.7,1003.2 2255.0,1022.8 2253.2,1042.5 2259.7,1062.2 2256.7,1081.8 2257.7,1101.5 2261.8,1121.2 2263.5,1140.8 2267.9,1160.5 2270.3,1180.2 2264.7,1199.9 2275.2,1219.5 2286.6,1239.2 2293.1,1258.9 2297.2,1278.5 2324.0,1298.2 2318.5,1317.9 2320.9,1337.5 2340.8,1357.2 2357.0,1376.9 2354.6,1396.5 2332.2,1416.2 2372.8,1435.9 2370.4,1455.5 2421.9,1475.2 2320.5,1494.9 2416.6,1514.6 2355.6,1534.2 2403.6,1553.9 2357.0,1573.6 2375.0,1593.2 2405.0,1612.9 2356.4,1632.6 2460.8,1652.2 2369.5,1671.9 2352.8,1691.6 2372.8,1711.2" stroke="#a43830"/>
<polyline points="2247.9,216.4 2251.1,236.1 2245.2,255.7 2245.4,275.4 2248.8,295.1 2251.7,314.7 2249.9,334.4 2250.9,354.1 2250.6,373.8 2246.5,393.4 2249.1,413.1 2242.8,432.8 2248.4,452.4 2249.9,472.1 2245.1,491.8 2245.0,511.4 2246.7,531.1 2249.6,550.8 2251.0,570.4 2253.8,590.1 2250.8,609.8 2245.3,629.4 2244.8,649.1 2250.1,668.8 2251.0,688.5 2245.2,708.1 2248.7,727.8 2248.2,747.5 2249.4,767.1 2248.7,786.8 2250.4,806.5 2251.2,826.1 2249.0,845.8 2250.9,865.5 2253.2,885.1 2246.5,904.8 2247.9,924.5 2251.4,944.2 2254.3,963.8 2249.8,983.5 2253.4,1003.2 2250.5,1022.8 2256.4,1042.5 2252.6,1062.2 2259.2,1081.8 2258.9,1101.5 2261.6,1121.2 2267.5,1140.8 2268.0,1160.5 2263.6,1180.2 2274.0,1199.9 2265.5,1219.5 2289.9,1239.2 2304.0,1258.9 2295.0,1278.5 2304.9,1298.2 2310.1,1317.9 2327.5,1337.5 2322.3,1357.2 2347.9,1376.9 2343.2,1396.5 2349.2,1416.2 2362.7,1435.9 2363.2,1455.5 2336.2,1475.2 2417.5,1494.9 2351.1,1514.6 2320.4,1534.2 2402.8,1553.9 2353.7,1573.6 2365.8,1593.2 2379.3,1612.9 2298.2,1632.6 2195.4,1652.2 2402.2,1671.9" stroke="#b13e36"/>
<polyline points="2251.0,216.4 2247.0,236.1 2248.9,255.7 2249.9,275.4 2248.3,295.1 2248.8,314.7 2249.7,334.4 2247.1,354.1 2252.8,373.8 2246.7,393.4 2249.8,413.1 2248.5,432.8 2248.1,452.4 2250.7,472.1 2251.1,491.8 2252.0,511.4 2250.1,531.1 2248.5,550.8 2251.4,570.4 2246.3,590.1 2250.3,609.8 2250.5,629.4 2250.6,649.1 2247.2,668.8 2247.2,688.5 2253.6,708.1 2248.0,727.8 2246.9,747.5 2247.9,767.1 2250.3,786.8 2252.2,806.5 2249.5,826.1 2252.4,845.8 2249.9,865.5 2251.0,885.1 2252.1,904.8 2249.2,924.5 2251.5,944.2 2249.7,963.8 2249.7,983.5 2253.1,1003.2 2250.2,1022.8 2255.1,1042.5 2253.5,1062.2 2257.7,1081.8 2257.4,1101.5 2265.3,1121.2 2263.0,1140.8 2266.3,1160.5 2275.0,1180.2 2255.9,1199.9 2274.6,1219.5 2268.9,1239.2 2293.1,1258.9 2298.6,1278.5 2307.0,1298.2 2313.6,1317.9 2313.7,1337.5 2350.5,1357.2 2340.5,1376.9 2348.6,1396.5 2342.6,1416.2 2373.0,1435.9 2358.3,1455.5 2368.5,1475.2 2375.1,1494.9 2367.8,1514.6 2346.4,1534.2 2407.2,1553.9 2335.0,1573.6 2343.6,1593.2 2379.5,1612.9 2357.6,1632.6 2384.3,1652.2 2350.8,1671.9 2385.0,1691.6" stroke="#bd443b"/>
<polyline points="2245.1,216.4 2250.2,236.1 2245.9,255.7 2248.3,275.4 2249.7,295.1 2248.1,314.7 2253.6,334.4 2244.7,354.1 2247.8,373.8 2248.8,393.4 2251.0,413.1 2247.5,432.8 2246.0,452.4 2251.3,472.1 2246.3,491.8 2248.7,511.4 2250.3,531.1 2247.1,550.8 2248.2,570.4 2249.8,590.1 2248.2,609.8 2249.5,629.4 2246.9,649.1 2249.1,668.8 2246.8,688.5 2246.4,708.1 2252.8,727.8 2249.1,747.5 2250.8,767.1 2246.9,786.8 2249.5,806.5 2248.7,826.1 2246.6,845.8 2250.8,865.5 2247.6,885.1 2249.4,904.8 2246.5,924.5 2252.5,944.2 2251.1,963.8 2250.8,983.5 2248.0,1003.2 2251.0,1022.8 2256.7,1042.5 2253.5,1062.2 2257.5,1081.8 2258.2,1101.5 2256.6,1121.2 2268.3,1140.8 2255.8,1160.5 2269.4,1180.2 2267.9,1199.9 2267.7,1219.5 2284.9,1239.2 2290.1,1258.9 2294.1,1278.5 2295.2,1298.2 2314.4,1317.9 2327.3,1337.5 2328.1,1357.2 2355.7,1376.9 2353.4,1396.5 2361.5,1416.2 2376.6,1435.9 2348.4,1455.5 2362.5,1475.2 2374.3,1494.9 2365.5,1514.6 2392.3,1534.2 2383.1,1553.9 2359.4,1573.6 2361.7,1593.2 2346.7,1612.9 2329.3,1632.6 2339.7,1652.2 2429.6,1671.9 2289.1,1691.6 2327.3,1711.2" stroke="#c94a40"/>
<polyline points="2247.7,216.4 2248.4,236.1 2244.8,255.7 2250.2,275.4 2247.9,295.1 2249.3,314.7 2249.4,334.4 2245.4,354.1 2253.9,373.8 2248.2,393.4 2249.5,413.1 2245.7,432.8 2250.9,452.4 2249.5,472.1 2248.5,491.8 2249.8,511.4 2251.5,531.1 2248.3,550.8 2247.9,570.4 2252.1,590.1 2249.4,609.8 2249.2,629.4 2253.7,649.1 2249.0,668.8 2249.4,688.5 2250.1,708.1 2248.8,727.8 2250.2,747.5 2249.9,767.1 2248.5,786.8 2249.6,806.5 2250.4,826.1 2250.4,845.8 2250.8,865.5 2251.1,885.1 2250.3,904.8 2251.3,924.5 2249.5,944.2 2250.3,963.8 2253.2,983.5 2246.1,1003.2 2254.5,1022.8 2261.5,1042.5 2249.6,1062.2 2262.5,1081.8 2253.1,1101.5 2263.5,1121.2 2268.1,1140.8 2269.8,1160.5 2263.5,1180.2 2265.8,1199.9 2271.1,1219.5 2287.8,1239.2 2286.4,1258.9 2296.7,1278.5 2304.0,1298.2 2314.4,1317.9 2324.9,1337.5 2330.8,1357.2 2324.6,1376.9 2369.8,1396.5 2318.0,1416.2 2387.9,1435.9 2352.6,1455.5 2373.4,1475.2 2358.3,1494.9 2357.2,1514.6 2366.2,1534.2 2361.7,1553.9 2342.1,1573.6 2385.5,1593.2 2341.8,1612.9 2414.0,1632.6 2352.2,1652.2 2336.3,1671.9 2582.9,1691.6 2657.3,1711.2" stroke="#d55145"/>
<polyline points="2247.5,216.4 2248.9,236.1 2251.6,255.7 2247.0,275.4 2248.2,295.1 2249.7,314.7 2247.1,334.4 2245.5,354.1 2247.2,373.8 2250.4,393.4 2250.3,413.1 2250.2,432.8 2249.9,452.4 2247.3,472.1 2251.1,491.8 2251.2,511.4 2248.1,531.1 2251.5,550.8 2248.6,570.4 2250.2,590.1 2250.2,609.8 2247.1,629.4 2252.8,649.1 2247.8,668.8 2250.1,688.5 2249.0,708.1 2250.9,727.8 2250.5,747.5 2249.9,767.1 2252.4,786.8 2250.0,806.5 2249.4,826.1 2245.3,845.8 2250.6,865.5 2249.6,885.1 2249.0,904.8 2249.3,924.5 2252.2,944.2 2252.8,963.8 2254.7,983.5 2253.1,1003.2 2251.1,1022.8 2255.6,1042.5 2252.7,1062.2 2260.3,1081.8 2259.7,1101.5 2259.9,1121.2 2264.0,1140.8 2265.4,1160.5 2266.5,1180.2 2276.4,1199.9 2289.5,1219.5 2285.3,1239.2 2295.8,1258.9 2297.0,1278.5 2301.8,1298.2 2328.8,1317.9 2316.7,1337.5 2337.3,1357.2 2340.6,1376.9 2359.6,1396.5 2357.1,1416.2 2373.5,1435.9 2350.9,1455.5 2380.2,1475.2 2395.8,1494.9 2342.4,1514.6 2362.2,1534.2 2405.9,1553.9 2373.2,1573.6 2389.0,1593.2 2307.1,1612.9 2387.0,1632.6 2317.8,1652.2 2294.0,1671.9 2582.9,1691.6 2349.6,1711.2" stroke="#e2574b"/>
<polyline points="2246.8,216.4 2247.9,236.1 2248.6,255.7 2249.2,275.4 2247.2,295.1 2253.4,314.7 2249.5,334.4 2248.8,354.1 2248.7,373.8 2253.3,393.4 2252.3,413.1 2248.2,432.8 2250.4,452.4 2251.5,472.1 2247.4,491.8 2249.2,511.4 2252.0,531.1 2248.2,550.8 2249.4,570.4 2247.7,590.1 2249.0,609.8 2251.1,629.4 2248.3,649.1 2248.1,668.8 2249.3,688.5 2253.0,708.1 2249.7,727.8 2249.2,747.5 2250.5,767.1 2250.7,786.8 2250.2,806.5 2247.2,826.1 2251.3,845.8 2249.7,865.5 2251.7,885.1 2247.9,904.8 2253.0,924.5 2249.5,944.2 2248.2,963.8 2254.5,983.5 2249.8,1003.2 2254.3,1022.8 2254.1,1042.5 2258.9,1062.2 2259.9,1081.8 2261.7,1101.5 2263.2,1121.2 2259.1,1140.8 2262.2,1160.5 2270.3,1180.2 2267.3,1199.9 2280.4,1219.5 2284.4,1239.2 2284.0,1258.9 2293.5,1278.5 2298.5,1298.2 2309.2,1317.9 2322.8,1337.5 2338.4,1357.2 2353.8,1376.9 2341.8,1396.5 2356.0,1416.2 2386.0,1435.9 2379.8,1455.5 2379.8,1475.2 2333.3,1494.9 2358.3,1514.6 2376.5,1534.2 2361.2,1553.9 2414.3,1573.6 2362.0,1593.2 2378.9,1612.9 2321.7,1632.6 2352.0,1652.2 2365.6,1671.9 2351.7,1691.6 2380.5,1711.2" stroke="#ee5d50"/>
</g>
<path d="M672.6,1721.08H1894.7" stroke="#000" stroke-width="16.6" stroke-dasharray="37 16" fill="none"/>
<path d="M672.6,1721.08H1894.7" stroke="#fff" stroke-width="9.9" stroke-dasharray="37 16" fill="none"/>
<path d="M672.6,1742.32H1894.7" stroke="#000" stroke-width="16.6" stroke-dasharray="10 16.5" fill="none"/>
<path d="M672.6,1742.32H1894.7" stroke="#fff" stroke-width="9.9" stroke-dasharray="10 16.5" fill="none"/>
<path d="M2138.5,1768.29H3360.5" stroke="#000" stroke-width="16.6" stroke-dasharray="37 16" fill="none"/>
<path d="M2138.5,1768.29H3360.5" stroke="#fff" stroke-width="9.9" stroke-dasharray="37 16" fill="none"/>
<path d="M2138.5,1745.08H3360.5" stroke="#000" stroke-width="16.6" stroke-dasharray="10 16.5" fill="none"/>
<path d="M2138.5,1745.08H3360.5" stroke="#fff" stroke-width="9.9" stroke-dasharray="10 16.5" fill="none"/>
<rect x="672.6" y="216.4" width="1222.1" height="1652.1999999999998" fill="none" stroke="#fff" stroke-width="5.5"/>
<path d="M669.9,1789.92h-9.7M669.9,1593.23h-9.7M669.9,1396.54h-9.7M669.9,1199.85h-9.7M669.9,1003.16h-9.7M669.9,806.47h-9.7M669.9,609.78h-9.7M669.9,413.09h-9.7M669.9,216.40h-9.7M783.70,1871.3v9.7M1005.90,1871.3v9.7M1228.10,1871.3v9.7M1450.30,1871.3v9.7M1672.50,1871.3v9.7M1894.70,1871.3v9.7" stroke="#fff" stroke-width="2.8" fill="none"/>
<rect x="2138.5" y="216.4" width="1222.0" height="1652.1999999999998" fill="none" stroke="#fff" stroke-width="5.5"/>
<path d="M2135.8,1789.92h-9.7M2135.8,1593.23h-9.7M2135.8,1396.54h-9.7M2135.8,1199.85h-9.7M2135.8,1003.16h-9.7M2135.8,806.47h-9.7M2135.8,609.78h-9.7M2135.8,413.09h-9.7M2135.8,216.40h-9.7M2249.59,1871.3v9.7M2471.77,1871.3v9.7M2693.95,1871.3v9.7M2916.14,1871.3v9.7M3138.32,1871.3v9.7M3360.50,1871.3v9.7" stroke="#fff" stroke-width="2.8" fill="none"/>
<text transform="translate(595.52,232.70) scale(1.0508,1)" font-family="Liberation Sans" font-weight="normal" font-size="44.76" fill="#fff" stroke="#fff" stroke-width="0.81" stroke-linejoin="round">50</text>
<text transform="translate(594.29,429.39) scale(1.0793,1)" font-family="Liberation Sans" font-weight="normal" font-size="44.76" fill="#fff" stroke="#fff" stroke-width="0.81" stroke-linejoin="round">45</text>
<text transform="translate(592.05,626.08) scale(1.1230,1)" font-family="Liberation Sans" font-weight="normal" font-size="44.76" fill="#fff" stroke="#fff" stroke-width="0.81" stroke-linejoin="round">40</text>
<text transform="translate(597.27,822.77) scale(1.0172,1)" font-family="Liberation Sans" font-weight="normal" font-size="44.76" fill="#fff" stroke="#fff" stroke-width="0.81" stroke-linejoin="round">35</text>
<text transform="translate(595.93,1019.46) scale(1.0423,1)" font-family="Liberation Sans" font-weight="normal" font-size="44.76" fill="#fff" stroke="#fff" stroke-width="0.81" stroke-linejoin="round">30</text>
<text transform="translate(596.79,1216.15) scale(1.0271,1)" font-family="Liberation Sans" font-weight="normal" font-size="44.76" fill="#fff" stroke="#fff" stroke-width="0.81" stroke-linejoin="round">25</text>
<text transform="translate(594.38,1412.84) scale(1.0744,1)" font-family="Liberation Sans" font-weight="normal" font-size="44.76" fill="#fff" stroke="#fff" stroke-width="0.81" stroke-linejoin="round">20</text>
<text transform="translate(598.95,1609.53) scale(0.9820,1)" font-family="Liberation Sans" font-weight="normal" font-size="44.76" fill="#fff" stroke="#fff" stroke-width="0.81" stroke-linejoin="round">15</text>
<text transform="translate(598.00,1806.22) scale(0.9992,1)" font-family="Liberation Sans" font-weight="normal" font-size="44.76" fill="#fff" stroke="#fff" stroke-width="0.81" stroke-linejoin="round">10</text>
<text transform="translate(720.68,1925.90) scale(1.0985,1)" font-family="Liberation Sans" font-weight="normal" font-size="44.76" fill="#fff" stroke="#fff" stroke-width="0.81" stroke-linejoin="round">0.000</text>
<text transform="translate(944.16,1925.90) scale(1.0804,1)" font-family="Liberation Sans" font-weight="normal" font-size="44.76" fill="#fff" stroke="#fff" stroke-width="0.81" stroke-linejoin="round">0.002</text>
<text transform="translate(1165.92,1925.90) scale(1.0794,1)" font-family="Liberation Sans" font-weight="normal" font-size="44.76" fill="#fff" stroke="#fff" stroke-width="0.81" stroke-linejoin="round">0.004</text>
<text transform="translate(1390.38,1925.90) scale(1.0453,1)" font-family="Liberation Sans" font-weight="normal" font-size="44.76" fill="#fff" stroke="#fff" stroke-width="0.81" stroke-linejoin="round">0.006</text>
<text transform="translate(1610.51,1925.90) scale(1.0820,1)" font-family="Liberation Sans" font-weight="normal" font-size="44.76" fill="#fff" stroke="#fff" stroke-width="0.81" stroke-linejoin="round">0.008</text>
<text transform="translate(1834.78,1925.90) scale(1.0432,1)" font-family="Liberation Sans" font-weight="normal" font-size="44.76" fill="#fff" stroke="#fff" stroke-width="0.81" stroke-linejoin="round">0.010</text>
<text transform="translate(557.66,1233.59) rotate(-90) scale(1.1464,1)" font-family="Liberation Sans" font-weight="normal" font-size="59.92" fill="#fff" stroke="#fff" stroke-width="1.08" stroke-linejoin="round">Altitude</text>
<text transform="translate(557.70,988.74) rotate(-90) scale(1.3268,1)" font-family="Liberation Sans" font-weight="normal" font-size="55.38" fill="#fff" stroke="#fff" stroke-width="1.00" stroke-linejoin="round">[</text>
<text transform="translate(557.66,964.04) rotate(-90) scale(1.1091,1)" font-family="Liberation Sans" font-weight="normal" font-size="59.92" fill="#fff" stroke="#fff" stroke-width="1.08" stroke-linejoin="round">km</text>
<text transform="translate(557.70,871.18) rotate(-90) scale(1.3268,1)" font-family="Liberation Sans" font-weight="normal" font-size="55.38" fill="#fff" stroke="#fff" stroke-width="1.00" stroke-linejoin="round">]</text>
<text transform="translate(853.71,2001.37) scale(1.0908,1)" font-family="Liberation Sans" font-weight="normal" font-size="59.21" fill="#fff" stroke="#fff" stroke-width="1.07" stroke-linejoin="round">Aerosol</text>
<text transform="translate(1088.34,2001.37) scale(1.1300,1)" font-family="Liberation Sans" font-weight="normal" font-size="59.21" fill="#fff" stroke="#fff" stroke-width="1.07" stroke-linejoin="round">Extinction</text>
<text transform="translate(1395.43,2001.37) scale(1.1308,1)" font-family="Liberation Sans" font-weight="normal" font-size="59.21" fill="#fff" stroke="#fff" stroke-width="1.07" stroke-linejoin="round">Coefficient</text>
<text transform="translate(1185.90,2076.40) scale(1.3177,1)" font-family="Liberation Sans" font-weight="normal" font-size="55.38" fill="#fff" stroke="#fff" stroke-width="1.00" stroke-linejoin="round">[</text>
<text transform="translate(1210.24,2076.46) scale(1.1146,1)" font-family="Liberation Sans" font-weight="normal" font-size="59.92" fill="#fff" stroke="#fff" stroke-width="1.08" stroke-linejoin="round">km</text>
<text transform="translate(1362.82,2076.40) scale(1.3359,1)" font-family="Liberation Sans" font-weight="normal" font-size="55.38" fill="#fff" stroke="#fff" stroke-width="1.00" stroke-linejoin="round">]</text>
<rect x="1305.1" y="2043.6" width="26.3" height="1.9" fill="#fff"/>
<text transform="translate(1334.69,2054.73) scale(0.9322,1)" font-family="Liberation Serif" font-weight="normal" font-size="41.31" fill="#fff" stroke="#fff" stroke-width="0.74" stroke-linejoin="round">1</text>
<text transform="translate(2061.42,232.70) scale(1.0508,1)" font-family="Liberation Sans" font-weight="normal" font-size="44.76" fill="#fff" stroke="#fff" stroke-width="0.81" stroke-linejoin="round">50</text>
<text transform="translate(2060.19,429.39) scale(1.0793,1)" font-family="Liberation Sans" font-weight="normal" font-size="44.76" fill="#fff" stroke="#fff" stroke-width="0.81" stroke-linejoin="round">45</text>
<text transform="translate(2057.95,626.08) scale(1.1230,1)" font-family="Liberation Sans" font-weight="normal" font-size="44.76" fill="#fff" stroke="#fff" stroke-width="0.81" stroke-linejoin="round">40</text>
<text transform="translate(2063.17,822.77) scale(1.0172,1)" font-family="Liberation Sans" font-weight="normal" font-size="44.76" fill="#fff" stroke="#fff" stroke-width="0.81" stroke-linejoin="round">35</text>
<text transform="translate(2061.83,1019.46) scale(1.0423,1)" font-family="Liberation Sans" font-weight="normal" font-size="44.76" fill="#fff" stroke="#fff" stroke-width="0.81" stroke-linejoin="round">30</text>
<text transform="translate(2062.69,1216.15) scale(1.0271,1)" font-family="Liberation Sans" font-weight="normal" font-size="44.76" fill="#fff" stroke="#fff" stroke-width="0.81" stroke-linejoin="round">25</text>
<text transform="translate(2060.28,1412.84) scale(1.0744,1)" font-family="Liberation Sans" font-weight="normal" font-size="44.76" fill="#fff" stroke="#fff" stroke-width="0.81" stroke-linejoin="round">20</text>
<text transform="translate(2064.85,1609.53) scale(0.9820,1)" font-family="Liberation Sans" font-weight="normal" font-size="44.76" fill="#fff" stroke="#fff" stroke-width="0.81" stroke-linejoin="round">15</text>
<text transform="translate(2063.90,1806.22) scale(0.9992,1)" font-family="Liberation Sans" font-weight="normal" font-size="44.76" fill="#fff" stroke="#fff" stroke-width="0.81" stroke-linejoin="round">10</text>
<text transform="translate(2186.57,1925.90) scale(1.0985,1)" font-family="Liberation Sans" font-weight="normal" font-size="44.76" fill="#fff" stroke="#fff" stroke-width="0.81" stroke-linejoin="round">0.000</text>
<text transform="translate(2410.04,1925.90) scale(1.0804,1)" font-family="Liberation Sans" font-weight="normal" font-size="44.76" fill="#fff" stroke="#fff" stroke-width="0.81" stroke-linejoin="round">0.002</text>
<text transform="translate(2631.77,1925.90) scale(1.0794,1)" font-family="Liberation Sans" font-weight="normal" font-size="44.76" fill="#fff" stroke="#fff" stroke-width="0.81" stroke-linejoin="round">0.004</text>
<text transform="translate(2856.21,1925.90) scale(1.0453,1)" font-family="Liberation Sans" font-weight="normal" font-size="44.76" fill="#fff" stroke="#fff" stroke-width="0.81" stroke-linejoin="round">0.006</text>
<text transform="translate(3076.33,1925.90) scale(1.0820,1)" font-family="Liberation Sans" font-weight="normal" font-size="44.76" fill="#fff" stroke="#fff" stroke-width="0.81" stroke-linejoin="round">0.008</text>
<text transform="translate(3300.58,1925.90) scale(1.0432,1)" font-family="Liberation Sans" font-weight="normal" font-size="44.76" fill="#fff" stroke="#fff" stroke-width="0.81" stroke-linejoin="round">0.010</text>
<text transform="translate(2023.56,1233.59) rotate(-90) scale(1.1464,1)" font-family="Liberation Sans" font-weight="normal" font-size="59.92" fill="#fff" stroke="#fff" stroke-width="1.08" stroke-linejoin="round">Altitude</text>
<text transform="translate(2023.60,988.74) rotate(-90) scale(1.3268,1)" font-family="Liberation Sans" font-weight="normal" font-size="55.38" fill="#fff" stroke="#fff" stroke-width="1.00" stroke-linejoin="round">[</text>
<text transform="translate(2023.56,964.04) rotate(-90) scale(1.1091,1)" font-family="Liberation Sans" font-weight="normal" font-size="59.92" fill="#fff" stroke="#fff" stroke-width="1.08" stroke-linejoin="round">km</text>
<text transform="translate(2023.60,871.18) rotate(-90) scale(1.3268,1)" font-family="Liberation Sans" font-weight="normal" font-size="55.38" fill="#fff" stroke="#fff" stroke-width="1.00" stroke-linejoin="round">]</text>
<text transform="translate(2319.61,2001.37) scale(1.0908,1)" font-family="Liberation Sans" font-weight="normal" font-size="59.21" fill="#fff" stroke="#fff" stroke-width="1.07" stroke-linejoin="round">Aerosol</text>
<text transform="translate(2554.24,2001.37) scale(1.1300,1)" font-family="Liberation Sans" font-weight="normal" font-size="59.21" fill="#fff" stroke="#fff" stroke-width="1.07" stroke-linejoin="round">Extinction</text>
<text transform="translate(2861.33,2001.37) scale(1.1308,1)" font-family="Liberation Sans" font-weight="normal" font-size="59.21" fill="#fff" stroke="#fff" stroke-width="1.07" stroke-linejoin="round">Coefficient</text>
<text transform="translate(2651.80,2076.40) scale(1.3177,1)" font-family="Liberation Sans" font-weight="normal" font-size="55.38" fill="#fff" stroke="#fff" stroke-width="1.00" stroke-linejoin="round">[</text>
<text transform="translate(2676.14,2076.46) scale(1.1146,1)" font-family="Liberation Sans" font-weight="normal" font-size="59.92" fill="#fff" stroke="#fff" stroke-width="1.08" stroke-linejoin="round">km</text>
<text transform="translate(2828.72,2076.40) scale(1.3359,1)" font-family="Liberation Sans" font-weight="normal" font-size="55.38" fill="#fff" stroke="#fff" stroke-width="1.00" stroke-linejoin="round">]</text>
<rect x="2771.0" y="2043.6" width="26.3" height="1.9" fill="#fff"/>
<text transform="translate(2800.59,2054.73) scale(0.9322,1)" font-family="Liberation Serif" font-weight="normal" font-size="41.31" fill="#fff" stroke="#fff" stroke-width="0.74" stroke-linejoin="round">1</text>
<text transform="translate(963.06,99.74) scale(1.0313,1)" font-family="Liberation Sans" font-weight="bold" font-size="74.24" fill="#fff" stroke="#fff" stroke-width="2.52" stroke-linejoin="round">SAGE</text>
<text transform="translate(1561.09,99.74) scale(1.1553,1)" font-family="Liberation Sans" font-weight="bold" font-size="74.24" fill="#fff" stroke="#fff" stroke-width="2.52" stroke-linejoin="round">384</text>
<text transform="translate(1708.60,99.74) scale(1.1356,1)" font-family="Liberation Sans" font-weight="bold" font-size="74.24" fill="#fff" stroke="#fff" stroke-width="2.52" stroke-linejoin="round">nm</text>
<text transform="translate(1861.33,99.74) scale(1.0998,1)" font-family="Liberation Sans" font-weight="bold" font-size="74.24" fill="#fff" stroke="#fff" stroke-width="2.52" stroke-linejoin="round">Aerosol</text>
<text transform="translate(2195.02,99.74) scale(1.1363,1)" font-family="Liberation Sans" font-weight="bold" font-size="74.24" fill="#fff" stroke="#fff" stroke-width="2.52" stroke-linejoin="round">Extinction</text>
<text transform="translate(2629.99,99.74) scale(1.1389,1)" font-family="Liberation Sans" font-weight="bold" font-size="74.24" fill="#fff" stroke="#fff" stroke-width="2.52" stroke-linejoin="round">Coefficient</text>
<text transform="translate(1210.78,99.11) scale(0.8638,1)" font-family="Liberation Mono" font-weight="bold" font-size="75.63" fill="#fff" stroke="#fff" stroke-width="3.78" stroke-linejoin="round">I</text>
<text transform="translate(1254.98,99.11) scale(0.8638,1)" font-family="Liberation Mono" font-weight="bold" font-size="75.63" fill="#fff" stroke="#fff" stroke-width="3.78" stroke-linejoin="round">I</text>
<text transform="translate(1298.92,99.11) scale(0.8578,1)" font-family="Liberation Mono" font-weight="bold" font-size="75.63" fill="#fff" stroke="#fff" stroke-width="3.78" stroke-linejoin="round">I</text>
<text transform="translate(1390.88,99.11) scale(0.8638,1)" font-family="Liberation Mono" font-weight="bold" font-size="75.63" fill="#fff" stroke="#fff" stroke-width="3.78" stroke-linejoin="round">I</text>
<text transform="translate(1432.70,99.74) scale(1.0126,1)" font-family="Liberation Sans" font-weight="bold" font-size="74.24" fill="#fff" stroke="#fff" stroke-width="2.52" stroke-linejoin="round">SS</text>
<path d="M1341.9,112.9 L1370.3,46.2 L1386.8,46.2 L1358.4,112.9 Z" fill="#fff"/>
<text transform="translate(1763.24,188.14) scale(1.0563,1)" font-family="Liberation Sans" font-weight="bold" font-size="74.24" fill="#fff" stroke="#fff" stroke-width="2.52" stroke-linejoin="round">23</text>
<text transform="translate(1884.79,188.14) scale(1.1289,1)" font-family="Liberation Sans" font-weight="bold" font-size="74.24" fill="#fff" stroke="#fff" stroke-width="2.52" stroke-linejoin="round">July</text>
<text transform="translate(2083.65,188.14) scale(1.1320,1)" font-family="Liberation Sans" font-weight="bold" font-size="74.24" fill="#fff" stroke="#fff" stroke-width="2.52" stroke-linejoin="round">2022</text>
<text transform="translate(1158.94,194.51) scale(1.1600,1)" font-family="Liberation Sans" font-weight="bold" font-size="58.45" fill="#fff" stroke="#fff" stroke-width="1.99" stroke-linejoin="round">Sunrise</text>
<text transform="translate(2637.58,194.51) scale(1.1369,1)" font-family="Liberation Sans" font-weight="bold" font-size="58.45" fill="#fff" stroke="#fff" stroke-width="1.99" stroke-linejoin="round">Sunset</text>
<rect x="13.45" y="729.5" width="425.45" height="955.9000000000001" rx="8" ry="8" fill="#000" stroke="#ababab" stroke-width="3.3"/>
<rect x="23.9" y="755.6" width="90.2" height="10" fill="#004370"/>
<text transform="translate(141.67,774.35) scale(1.0091,1)" font-family="Liberation Sans" font-weight="normal" font-size="39.09" fill="#fff" stroke="#fff" stroke-width="0.70" stroke-linejoin="round">2022072301SR</text>
<rect x="23.9" y="814.6" width="90.2" height="10" fill="#004877"/>
<text transform="translate(141.63,833.35) scale(1.0267,1)" font-family="Liberation Sans" font-weight="normal" font-size="39.09" fill="#fff" stroke="#fff" stroke-width="0.70" stroke-linejoin="round">2022072304SR</text>
<rect x="23.9" y="873.6" width="90.2" height="10" fill="#004d7e"/>
<text transform="translate(141.65,892.35) scale(1.0159,1)" font-family="Liberation Sans" font-weight="normal" font-size="39.09" fill="#fff" stroke="#fff" stroke-width="0.70" stroke-linejoin="round">2022072307SR</text>
<rect x="23.9" y="932.6" width="90.2" height="10" fill="#005285"/>
<text transform="translate(141.67,951.35) scale(1.0091,1)" font-family="Liberation Sans" font-weight="normal" font-size="39.09" fill="#fff" stroke="#fff" stroke-width="0.70" stroke-linejoin="round">2022072310SR</text>
<rect x="23.9" y="991.6" width="90.2" height="10" fill="#00588c"/>
<text transform="translate(141.69,1010.35) scale(0.9957,1)" font-family="Liberation Sans" font-weight="normal" font-size="39.09" fill="#fff" stroke="#fff" stroke-width="0.70" stroke-linejoin="round">2022072313SR</text>
<rect x="23.9" y="1050.6" width="90.2" height="10" fill="#005d93"/>
<text transform="translate(141.69,1069.35) scale(0.9998,1)" font-family="Liberation Sans" font-weight="normal" font-size="39.09" fill="#fff" stroke="#fff" stroke-width="0.70" stroke-linejoin="round">2022072316SR</text>
<rect x="23.9" y="1109.6" width="90.2" height="10" fill="#00629a"/>
<text transform="translate(141.69,1128.35) scale(0.9998,1)" font-family="Liberation Sans" font-weight="normal" font-size="39.09" fill="#fff" stroke="#fff" stroke-width="0.70" stroke-linejoin="round">2022072319SR</text>
<rect x="23.9" y="1168.6" width="90.2" height="10" fill="#0067a1"/>
<text transform="translate(141.67,1187.35) scale(1.0091,1)" font-family="Liberation Sans" font-weight="normal" font-size="39.09" fill="#fff" stroke="#fff" stroke-width="0.70" stroke-linejoin="round">2022072322SR</text>
<rect x="23.9" y="1227.6" width="90.2" height="10" fill="#006ca9"/>
<text transform="translate(141.66,1246.35) scale(1.0114,1)" font-family="Liberation Sans" font-weight="normal" font-size="39.09" fill="#fff" stroke="#fff" stroke-width="0.70" stroke-linejoin="round">2022072325SR</text>
<rect x="23.9" y="1286.6" width="90.2" height="10" fill="#0071b0"/>
<text transform="translate(141.67,1305.35) scale(1.0099,1)" font-family="Liberation Sans" font-weight="normal" font-size="39.09" fill="#fff" stroke="#fff" stroke-width="0.70" stroke-linejoin="round">2022072328SR</text>
<rect x="23.9" y="1345.6" width="90.2" height="10" fill="#0076b7"/>
<text transform="translate(141.70,1364.35) scale(0.9950,1)" font-family="Liberation Sans" font-weight="normal" font-size="39.09" fill="#fff" stroke="#fff" stroke-width="0.70" stroke-linejoin="round">2022072331SR</text>
<rect x="23.9" y="1404.6" width="90.2" height="10" fill="#007bbe"/>
<text transform="translate(141.66,1423.35) scale(1.0151,1)" font-family="Liberation Sans" font-weight="normal" font-size="39.09" fill="#fff" stroke="#fff" stroke-width="0.70" stroke-linejoin="round">2022072334SR</text>
<rect x="23.9" y="1463.6" width="90.2" height="10" fill="#0081c5"/>
<text transform="translate(141.68,1482.35) scale(1.0024,1)" font-family="Liberation Sans" font-weight="normal" font-size="39.09" fill="#fff" stroke="#fff" stroke-width="0.70" stroke-linejoin="round">2022072337SR</text>
<rect x="23.9" y="1522.6" width="90.2" height="10" fill="#0086cc"/>
<text transform="translate(141.63,1541.35) scale(1.0274,1)" font-family="Liberation Sans" font-weight="normal" font-size="39.09" fill="#fff" stroke="#fff" stroke-width="0.70" stroke-linejoin="round">2022072340SR</text>
<rect x="23.9" y="1581.6" width="90.2" height="10" fill="#008bd3"/>
<text transform="translate(141.66,1600.35) scale(1.0151,1)" font-family="Liberation Sans" font-weight="normal" font-size="39.09" fill="#fff" stroke="#fff" stroke-width="0.70" stroke-linejoin="round">2022072343SR</text>
<rect x="23.9" y="1640.6" width="90.2" height="10" fill="#0090da"/>
<text transform="translate(141.65,1659.35) scale(1.0174,1)" font-family="Liberation Sans" font-weight="normal" font-size="39.09" fill="#fff" stroke="#fff" stroke-width="0.70" stroke-linejoin="round">2022072346SR</text>
<rect x="3380.8" y="760" width="421.1999999999998" height="896.2" rx="8" ry="8" fill="#000" stroke="#ababab" stroke-width="3.3"/>
<rect x="3390.6" y="785.7" width="90.2" height="10" fill="#420606"/>
<text transform="translate(3508.96,804.45) scale(1.0112,1)" font-family="Liberation Sans" font-weight="normal" font-size="39.09" fill="#fff" stroke="#fff" stroke-width="0.70" stroke-linejoin="round">2022072303SS</text>
<rect x="3390.6" y="844.7" width="90.2" height="10" fill="#4e0c0b"/>
<text transform="translate(3508.95,863.47) scale(1.0161,1)" font-family="Liberation Sans" font-weight="normal" font-size="39.09" fill="#fff" stroke="#fff" stroke-width="0.70" stroke-linejoin="round">2022072306SS</text>
<rect x="3390.6" y="903.7" width="90.2" height="10" fill="#5b1211"/>
<text transform="translate(3508.96,922.49) scale(1.0135,1)" font-family="Liberation Sans" font-weight="normal" font-size="39.09" fill="#fff" stroke="#fff" stroke-width="0.70" stroke-linejoin="round">2022072309SS</text>
<rect x="3390.6" y="962.8" width="90.2" height="10" fill="#671916"/>
<text transform="translate(3508.99,981.51) scale(0.9962,1)" font-family="Liberation Sans" font-weight="normal" font-size="39.09" fill="#fff" stroke="#fff" stroke-width="0.70" stroke-linejoin="round">2022072312SS</text>
<rect x="3390.6" y="1021.8" width="90.2" height="10" fill="#731f1b"/>
<text transform="translate(3508.99,1040.53) scale(0.9988,1)" font-family="Liberation Sans" font-weight="normal" font-size="39.09" fill="#fff" stroke="#fff" stroke-width="0.70" stroke-linejoin="round">2022072315SS</text>
<rect x="3390.6" y="1080.8" width="90.2" height="10" fill="#7f2520"/>
<text transform="translate(3508.98,1099.55) scale(1.0011,1)" font-family="Liberation Sans" font-weight="normal" font-size="39.09" fill="#fff" stroke="#fff" stroke-width="0.70" stroke-linejoin="round">2022072318SS</text>
<rect x="3390.6" y="1139.8" width="90.2" height="10" fill="#8c2b26"/>
<text transform="translate(3508.99,1158.57) scale(0.9962,1)" font-family="Liberation Sans" font-weight="normal" font-size="39.09" fill="#fff" stroke="#fff" stroke-width="0.70" stroke-linejoin="round">2022072321SS</text>
<rect x="3390.6" y="1198.8" width="90.2" height="10" fill="#98322b"/>
<text transform="translate(3508.96,1217.59) scale(1.0135,1)" font-family="Liberation Sans" font-weight="normal" font-size="39.09" fill="#fff" stroke="#fff" stroke-width="0.70" stroke-linejoin="round">2022072324SS</text>
<rect x="3390.6" y="1257.9" width="90.2" height="10" fill="#a43830"/>
<text transform="translate(3508.98,1276.61) scale(1.0018,1)" font-family="Liberation Sans" font-weight="normal" font-size="39.09" fill="#fff" stroke="#fff" stroke-width="0.70" stroke-linejoin="round">2022072327SS</text>
<rect x="3390.6" y="1316.9" width="90.2" height="10" fill="#b13e36"/>
<text transform="translate(3508.96,1335.63) scale(1.0112,1)" font-family="Liberation Sans" font-weight="normal" font-size="39.09" fill="#fff" stroke="#fff" stroke-width="0.70" stroke-linejoin="round">2022072330SS</text>
<rect x="3390.6" y="1375.9" width="90.2" height="10" fill="#bd443b"/>
<text transform="translate(3508.99,1394.65) scale(0.9969,1)" font-family="Liberation Sans" font-weight="normal" font-size="39.09" fill="#fff" stroke="#fff" stroke-width="0.70" stroke-linejoin="round">2022072333SS</text>
<rect x="3390.6" y="1434.9" width="90.2" height="10" fill="#c94a40"/>
<text transform="translate(3508.98,1453.67) scale(1.0018,1)" font-family="Liberation Sans" font-weight="normal" font-size="39.09" fill="#fff" stroke="#fff" stroke-width="0.70" stroke-linejoin="round">2022072336SS</text>
<rect x="3390.6" y="1493.9" width="90.2" height="10" fill="#d55145"/>
<text transform="translate(3508.98,1512.69) scale(1.0018,1)" font-family="Liberation Sans" font-weight="normal" font-size="39.09" fill="#fff" stroke="#fff" stroke-width="0.70" stroke-linejoin="round">2022072339SS</text>
<rect x="3390.6" y="1553.0" width="90.2" height="10" fill="#e2574b"/>
<text transform="translate(3508.95,1571.71) scale(1.0158,1)" font-family="Liberation Sans" font-weight="normal" font-size="39.09" fill="#fff" stroke="#fff" stroke-width="0.70" stroke-linejoin="round">2022072342SS</text>
<rect x="3390.6" y="1612.0" width="90.2" height="10" fill="#ee5d50"/>
<text transform="translate(3508.95,1630.73) scale(1.0180,1)" font-family="Liberation Sans" font-weight="normal" font-size="39.09" fill="#fff" stroke="#fff" stroke-width="0.70" stroke-linejoin="round">2022072345SS</text>
<path d="M39.7,1980.2h37.3M93.4,1980.2h26.9" stroke="#fff" stroke-width="9.8" fill="none"/>
<path d="M39.7,2039.6h10.3M66.2,2039.6h10.6M92.9,2039.6h10.6M119.3,2039.6h1.2" stroke="#fff" stroke-width="9.8" fill="none"/>
<rect x="40.4" y="2085.6" width="80.4" height="27.8" fill="#696c71" stroke="#9a9da1" stroke-width="2.6"/>
<text transform="translate(150.79,1993.05) scale(1.1073,1)" font-family="Liberation Sans" font-weight="normal" font-size="39.24" fill="#fff" stroke="#fff" stroke-width="0.71" stroke-linejoin="round">Mean</text>
<text transform="translate(271.38,1993.05) scale(1.1022,1)" font-family="Liberation Sans" font-weight="normal" font-size="39.24" fill="#fff" stroke="#fff" stroke-width="0.71" stroke-linejoin="round">Tropopause</text>
<text transform="translate(150.73,2052.65) scale(1.1259,1)" font-family="Liberation Sans" font-weight="normal" font-size="39.24" fill="#fff" stroke="#fff" stroke-width="0.71" stroke-linejoin="round">Median</text>
<text transform="translate(307.39,2052.65) scale(1.0968,1)" font-family="Liberation Sans" font-weight="normal" font-size="39.24" fill="#fff" stroke="#fff" stroke-width="0.71" stroke-linejoin="round">Tropopause</text>
<text transform="translate(153.39,2112.15) scale(1.0968,1)" font-family="Liberation Sans" font-weight="normal" font-size="39.24" fill="#fff" stroke="#fff" stroke-width="0.71" stroke-linejoin="round">Tropopause</text>
<text transform="translate(393.94,2112.15) scale(1.0925,1)" font-family="Liberation Sans" font-weight="normal" font-size="39.24" fill="#fff" stroke="#fff" stroke-width="0.71" stroke-linejoin="round">Range</text>
<text transform="translate(3267.94,2038.23) scale(1.0454,1)" font-family="Liberation Sans" font-weight="normal" font-size="30.03" fill="#8c8c8c" stroke="#8c8c8c" stroke-width="0.54" stroke-linejoin="round">SAGE</text>
<text transform="translate(3449.73,2038.23) scale(0.9851,1)" font-family="Liberation Sans" font-weight="normal" font-size="30.03" fill="#8c8c8c" stroke="#8c8c8c" stroke-width="0.54" stroke-linejoin="round">SS</text>
<text transform="translate(3499.47,2038.23) scale(1.1786,1)" font-family="Liberation Sans" font-weight="normal" font-size="30.03" fill="#8c8c8c" stroke="#8c8c8c" stroke-width="0.54" stroke-linejoin="round">Mission</text>
<text transform="translate(3646.30,2038.23) scale(1.1250,1)" font-family="Liberation Sans" font-weight="normal" font-size="30.03" fill="#8c8c8c" stroke="#8c8c8c" stroke-width="0.54" stroke-linejoin="round">NASA</text>
<text transform="translate(3748.65,2038.23) scale(1.1858,1)" font-family="Liberation Sans" font-weight="normal" font-size="30.03" fill="#8c8c8c" stroke="#8c8c8c" stroke-width="0.54" stroke-linejoin="round">LaRC</text>
<text transform="translate(3366.53,2038.22) scale(0.9878,1)" font-family="Liberation Mono" font-weight="normal" font-size="31.33" fill="#8c8c8c" stroke="#8c8c8c" stroke-width="0.56" stroke-linejoin="round">I</text>
<text transform="translate(3382.13,2038.22) scale(0.9878,1)" font-family="Liberation Mono" font-weight="normal" font-size="31.33" fill="#8c8c8c" stroke="#8c8c8c" stroke-width="0.56" stroke-linejoin="round">I</text>
<text transform="translate(3397.73,2038.22) scale(0.9878,1)" font-family="Liberation Mono" font-weight="normal" font-size="31.33" fill="#8c8c8c" stroke="#8c8c8c" stroke-width="0.56" stroke-linejoin="round">I</text>
<text transform="translate(3432.98,2038.22) scale(0.9719,1)" font-family="Liberation Mono" font-weight="normal" font-size="31.33" fill="#8c8c8c" stroke="#8c8c8c" stroke-width="0.56" stroke-linejoin="round">I</text>
<path d="M3414.7,2043.5 L3430.3,2016 L3434.5,2016 L3418.9,2043.5 Z" fill="#8c8c8c"/>
<rect x="3630.3" y="2013" width="3.3" height="32" fill="#8c8c8c"/>
<text transform="translate(3311.28,2075.93) scale(1.2133,1)" font-family="Liberation Sans" font-weight="normal" font-size="30.03" fill="#8c8c8c" stroke="#8c8c8c" stroke-width="0.54" stroke-linejoin="round">Preparer:</text>
<text transform="translate(3471.31,2075.93) scale(1.2441,1)" font-family="Liberation Sans" font-weight="normal" font-size="30.03" fill="#8c8c8c" stroke="#8c8c8c" stroke-width="0.54" stroke-linejoin="round">Kevin</text>
<text transform="translate(3573.06,2075.93) scale(1.0579,1)" font-family="Liberation Sans" font-weight="normal" font-size="30.03" fill="#8c8c8c" stroke="#8c8c8c" stroke-width="0.54" stroke-linejoin="round">R.</text>
<text transform="translate(3612.31,2075.93) scale(1.2004,1)" font-family="Liberation Sans" font-weight="normal" font-size="30.03" fill="#8c8c8c" stroke="#8c8c8c" stroke-width="0.54" stroke-linejoin="round">Leavor</text>
<text transform="translate(3732.91,2075.93) scale(1.2657,1)" font-family="Liberation Sans" font-weight="normal" font-size="30.03" fill="#8c8c8c" stroke="#8c8c8c" stroke-width="0.54" stroke-linejoin="round">(AMA)</text>
<text transform="translate(3389.33,2112.93) scale(1.2196,1)" font-family="Liberation Sans" font-weight="normal" font-size="30.03" fill="#8c8c8c" stroke="#8c8c8c" stroke-width="0.54" stroke-linejoin="round">Generated</text>
<text transform="translate(3571.69,2112.93) scale(1.1101,1)" font-family="Liberation Sans" font-weight="normal" font-size="30.03" fill="#8c8c8c" stroke="#8c8c8c" stroke-width="0.54" stroke-linejoin="round">2025-07-17</text>
<text transform="translate(3753.33,2112.93) scale(1.1490,1)" font-family="Liberation Sans" font-weight="normal" font-size="30.03" fill="#8c8c8c" stroke="#8c8c8c" stroke-width="0.54" stroke-linejoin="round">22:25</text>
<text transform="translate(3532.66,2150.03) scale(1.2213,1)" font-family="Liberation Sans" font-weight="normal" font-size="30.03" fill="#8c8c8c" stroke="#8c8c8c" stroke-width="0.54" stroke-linejoin="round">Data</text>
<text transform="translate(3624.51,2150.03) scale(1.1778,1)" font-family="Liberation Sans" font-weight="normal" font-size="30.03" fill="#8c8c8c" stroke="#8c8c8c" stroke-width="0.54" stroke-linejoin="round">Version:</text>
<text transform="translate(3761.49,2150.03) scale(1.1696,1)" font-family="Liberation Sans" font-weight="normal" font-size="30.03" fill="#8c8c8c" stroke="#8c8c8c" stroke-width="0.54" stroke-linejoin="round">6.0.0</text>
<g id="logo"><path d="M3529.0,21.25 H3794.5 A31.75,31.75 0 0 1 3826.25,53.0 V218.0 A164.5,164.5 0 0 1 3497.25,218.0 V53.0 A31.75,31.75 0 0 1 3529.0,21.25 Z" fill="#0c4e86" stroke="#e9584d" stroke-width="6.5"/>
<clipPath id="lgc"><circle cx="3662.9" cy="219.0" r="127"/></clipPath>
<circle cx="3662.9" cy="219.0" r="133" fill="#0b4a80" stroke="#cdd0dc" stroke-width="14"/>
<g clip-path="url(#lgc)">
<circle cx="2820.0" cy="855.0" r="1065.0" fill="#1c6daa"/>
<circle cx="2820.0" cy="855.0" r="1056.0" fill="#0d5893"/>
<clipPath id="lge"><circle cx="2820.0" cy="855.0" r="1056.0"/></clipPath>
<g clip-path="url(#lge)">
<path d="M3603.2,179.0C3609.8,157.4 3627.2,174.3 3636.3,179.0C3645.4,183.7 3643.5,193.3 3648.7,202.4C3654.0,211.5 3659.2,217.9 3662.5,224.5C3665.8,231.1 3665.0,230.9 3665.3,235.5C3665.5,240.2 3662.8,241.6 3663.9,248.0C3665.0,254.3 3671.6,264.5 3670.8,267.3C3670.0,270.0 3663.9,262.0 3659.7,261.8C3655.6,261.5 3653.4,263.1 3650.1,265.9C3646.8,268.7 3644.6,270.9 3643.2,275.6C3641.8,280.3 3641.8,284.4 3643.2,289.4C3644.6,294.3 3646.8,297.6 3650.1,300.4C3653.4,303.2 3656.4,304.8 3659.7,303.2C3663.1,301.5 3664.7,292.1 3666.6,292.1C3668.6,292.1 3666.1,299.9 3669.4,303.2C3672.7,306.5 3678.2,308.1 3683.2,308.7C3688.2,309.2 3690.4,308.1 3694.3,305.9C3698.1,303.7 3698.1,301.5 3702.5,297.6C3706.9,293.8 3710.3,283.8 3716.3,286.6C3722.4,289.4 3728.5,303.2 3732.9,311.4C3737.3,319.7 3741.7,323.6 3738.4,328.0C3735.1,332.4 3725.2,331.0 3716.3,333.5C3707.5,336.0 3698.4,343.5 3694.3,340.4C3690.1,337.4 3697.8,323.6 3695.6,318.3C3693.4,313.1 3688.5,315.9 3683.2,314.2C3678.0,312.6 3674.9,310.3 3669.4,310.1C3663.9,309.8 3661.4,312.0 3655.6,312.8C3649.8,313.7 3645.9,315.3 3640.4,314.2C3634.9,313.1 3633.3,311.2 3628.0,307.3C3622.8,303.4 3619.2,299.0 3614.2,294.9C3609.2,290.7 3605.4,309.8 3603.2,286.6C3601.0,263.4 3596.5,200.5 3603.2,179.0Z" fill="#5ea26b"/>
<path d="M3621.1,201.0C3621.4,199.4 3626.5,203.0 3629.4,206.6C3632.3,210.1 3631.0,215.3 3633.5,216.2C3636.1,217.2 3636.2,212.6 3640.4,210.7C3644.6,208.8 3649.5,206.3 3651.5,207.9C3653.4,209.6 3651.3,213.4 3648.7,217.6C3646.1,221.8 3643.6,224.8 3640.4,225.9C3637.2,227.0 3637.8,225.3 3634.9,222.4C3632.0,219.5 3631.2,218.5 3628.0,213.5C3624.8,208.5 3620.8,202.7 3621.1,201.0Z" fill="#0d5893"/>
<path d="M3659.7,221.7C3660.7,221.3 3664.0,224.3 3664.6,225.9C3665.2,227.5 3664.1,230.9 3663.2,231.4C3662.3,231.9 3659.6,230.3 3659.1,228.6C3658.5,227.0 3658.8,222.2 3659.7,221.7Z" fill="#0d5893"/>
</g>
<g stroke="#e8f1f8" stroke-width="0.9" fill="none">
<path d="M3600.4,152.8 L3655.6,210 L3732.9,323.9"/>
<path d="M3600.4,152.8 L3640,183 L3669.4,226.6"/>
</g>
</g>
<g stroke="#e8f1f8" stroke-width="1" fill="none">
<path d="M3716.3,191.4 L3669.4,226.6"/>
<path d="M3716.3,191.4 L3674.9,232.8"/>
<path d="M3716.3,191.4 L3723.2,259"/>
<path d="M3716.3,191.4 L3732.9,256.2"/>
<path d="M3716.3,191.4 L3655.6,159.7"/>
<path d="M3716.3,191.4 L3645.9,167.3"/>
</g>
<circle cx="3637.4" cy="144.6" r="23.5" fill="#dcdee6"/>
<ellipse cx="3638" cy="138" rx="7" ry="5" fill="#aeb1bd"/>
<ellipse cx="3647" cy="146" rx="6" ry="8" fill="#aeb1bd"/>
<ellipse cx="3630" cy="150" rx="5" ry="6" fill="#aeb1bd"/>
<ellipse cx="3641" cy="157" rx="6" ry="4" fill="#aeb1bd"/>
<ellipse cx="3627" cy="136" rx="3" ry="3" fill="#aeb1bd"/>
<ellipse cx="3650" cy="135" rx="3" ry="4" fill="#aeb1bd"/>
<circle cx="3637.4" cy="144.6" r="22.8" fill="none" stroke="#f2f3f7" stroke-width="1.4"/>
<circle cx="3735.7" cy="280.4" r="23.5" fill="#fddf9e"/>
<path d="M3735.7,256.9 A23.5,23.5 0 0 0 3730,303.2 A40,40 0 0 1 3735.7,256.9Z" fill="#d6d9e1"/>
<path d="M3693.6,106.8 L3694.835,115.065 L3703.1,116.3 L3694.835,117.535 L3693.6,125.8 L3692.365,117.535 L3684.1,116.3 L3692.365,115.065Z" fill="#fbe3a8"/>
<circle cx="3693.6" cy="116.3" r="2.2" fill="#f7c96b"/>
<path d="M3680.2,122.2 L3680.9539999999997,127.246 L3686.0,128 L3680.9539999999997,128.754 L3680.2,133.8 L3679.446,128.754 L3674.3999999999996,128 L3679.446,127.246Z" fill="#fff"/>
<path d="M3703.6,125.8 L3704.1459999999997,129.454 L3707.7999999999997,130 L3704.1459999999997,130.546 L3703.6,134.2 L3703.054,130.546 L3699.4,130 L3703.054,129.454Z" fill="#fff"/>
<g transform="translate(3729.5,182.5) rotate(52.6)">
<rect x="-24" y="-0.9" width="48" height="1.8" fill="#c9ccd4"/>
<rect x="-28.0" y="-21" width="1.45" height="18.5" fill="#bfc2cb"/>
<rect x="-28.0" y="2.5" width="1.45" height="18.5" fill="#bfc2cb"/>
<rect x="-25.9" y="-21" width="1.45" height="18.5" fill="#bfc2cb"/>
<rect x="-25.9" y="2.5" width="1.45" height="18.5" fill="#bfc2cb"/>
<rect x="-23.8" y="-21" width="1.45" height="18.5" fill="#bfc2cb"/>
<rect x="-23.8" y="2.5" width="1.45" height="18.5" fill="#bfc2cb"/>
<rect x="-21.7" y="-21" width="1.45" height="18.5" fill="#bfc2cb"/>
<rect x="-21.7" y="2.5" width="1.45" height="18.5" fill="#bfc2cb"/>
<rect x="-19.6" y="-21" width="1.45" height="18.5" fill="#bfc2cb"/>
<rect x="-19.6" y="2.5" width="1.45" height="18.5" fill="#bfc2cb"/>
<rect x="-17.5" y="-21" width="1.45" height="18.5" fill="#bfc2cb"/>
<rect x="-17.5" y="2.5" width="1.45" height="18.5" fill="#bfc2cb"/>
<rect x="-15.4" y="-21" width="1.45" height="18.5" fill="#bfc2cb"/>
<rect x="-15.4" y="2.5" width="1.45" height="18.5" fill="#bfc2cb"/>
<rect x="-13.3" y="-21" width="1.45" height="18.5" fill="#bfc2cb"/>
<rect x="-13.3" y="2.5" width="1.45" height="18.5" fill="#bfc2cb"/>
<rect x="12.0" y="-21" width="1.45" height="18.5" fill="#bfc2cb"/>
<rect x="12.0" y="2.5" width="1.45" height="18.5" fill="#bfc2cb"/>
<rect x="14.1" y="-21" width="1.45" height="18.5" fill="#bfc2cb"/>
<rect x="14.1" y="2.5" width="1.45" height="18.5" fill="#bfc2cb"/>
<rect x="16.2" y="-21" width="1.45" height="18.5" fill="#bfc2cb"/>
<rect x="16.2" y="2.5" width="1.45" height="18.5" fill="#bfc2cb"/>
<rect x="18.3" y="-21" width="1.45" height="18.5" fill="#bfc2cb"/>
<rect x="18.3" y="2.5" width="1.45" height="18.5" fill="#bfc2cb"/>
<rect x="20.4" y="-21" width="1.45" height="18.5" fill="#bfc2cb"/>
<rect x="20.4" y="2.5" width="1.45" height="18.5" fill="#bfc2cb"/>
<rect x="22.5" y="-21" width="1.45" height="18.5" fill="#bfc2cb"/>
<rect x="22.5" y="2.5" width="1.45" height="18.5" fill="#bfc2cb"/>
<rect x="24.6" y="-21" width="1.45" height="18.5" fill="#bfc2cb"/>
<rect x="24.6" y="2.5" width="1.45" height="18.5" fill="#bfc2cb"/>
<rect x="26.7" y="-21" width="1.45" height="18.5" fill="#bfc2cb"/>
<rect x="26.7" y="2.5" width="1.45" height="18.5" fill="#bfc2cb"/>
<rect x="-9" y="-3" width="17" height="6" fill="#d9dbe2"/>
<rect x="-6" y="-9" width="1.6" height="18" fill="#d9dbe2"/>
<rect x="-1" y="-9" width="1.6" height="18" fill="#d9dbe2"/>
<rect x="4" y="-9" width="1.6" height="18" fill="#d9dbe2"/>
<rect x="-8" y="-7" width="14" height="1.3" fill="#d9dbe2"/><rect x="-8" y="6" width="14" height="1.3" fill="#d9dbe2"/>
</g>
<path d="M3534.7,166.2C3530.6,164.6 3523.9,171.2 3519.8,177.8C3515.7,184.4 3515.7,191.1 3514.0,199.3C3512.4,207.6 3513.8,211.3 3511.5,219.2C3509.2,227.2 3503.7,234.2 3502.4,239.1C3501.1,244.0 3501.1,245.4 3504.9,243.7C3508.7,242.1 3516.0,236.7 3521.5,230.8C3526.9,224.9 3528.9,220.9 3532.2,214.2C3535.5,207.6 3536.4,203.3 3538.0,197.7C3539.7,192.1 3541.2,192.4 3540.5,186.1C3539.8,179.8 3538.8,167.9 3534.7,166.2Z" fill="#c9453b"/>
<path d="M3523.1,179.5C3521.0,180.8 3519.0,191.4 3517.3,199.3C3515.7,207.3 3517.2,210.9 3514.8,219.2C3512.5,227.5 3506.1,237.7 3505.7,240.7C3505.4,243.7 3509.7,239.1 3513.2,234.1C3516.7,229.1 3520.1,224.2 3523.1,215.9C3526.1,207.6 3528.1,200.0 3528.1,192.7C3528.1,185.4 3525.3,178.1 3523.1,179.5Z" fill="#9b2d26"/>
<path d="M3528.9,177.8C3527.4,178.5 3525.4,191.1 3523.9,199.3C3522.5,207.6 3521.1,215.9 3521.5,219.2C3521.8,222.5 3523.6,220.5 3525.6,215.9C3527.6,211.3 3530.7,203.6 3531.4,196.0C3532.1,188.4 3530.4,177.2 3528.9,177.8Z" fill="#e26355"/>
<path d="M3562.8,148.0C3559.4,148.3 3548.5,153.1 3544.6,156.3C3540.8,159.5 3537.9,165.1 3537.2,169.5C3536.4,174.0 3538.6,181.6 3539.7,186.1C3540.8,190.6 3542.6,195.6 3544.6,199.3C3546.6,203.1 3553.4,206.0 3552.9,210.9C3552.4,215.9 3543.6,227.2 3541.3,232.5C3539.0,237.7 3537.2,241.7 3537.7,245.7C3538.2,249.7 3541.9,254.5 3544.6,258.9C3547.4,263.4 3553.2,270.3 3556.2,275.5C3559.2,280.7 3560.5,288.2 3564.5,293.7C3568.5,299.2 3576.4,306.2 3582.7,311.9C3589.0,317.6 3603.0,336.3 3606.7,331.8C3610.4,327.3 3607.5,297.0 3607.2,282.1C3606.9,267.2 3604.8,244.9 3604.6,232.5C3604.4,220.0 3605.1,205.3 3605.9,199.3C3606.6,193.4 3609.4,195.1 3609.5,192.7C3609.6,190.4 3605.6,185.8 3606.6,183.6C3607.5,181.4 3614.5,180.0 3616.2,178.1C3617.8,176.3 3619.0,173.2 3617.5,171.2C3615.9,169.2 3608.6,165.3 3605.9,164.6C3603.2,163.8 3600.8,163.0 3599.3,166.2C3597.8,169.5 3598.4,182.6 3596.0,186.1C3593.5,189.6 3585.7,191.9 3582.7,189.4C3579.7,186.9 3578.3,174.8 3576.1,169.5C3573.9,164.3 3569.8,157.9 3567.8,154.6C3565.8,151.4 3566.3,147.8 3562.8,148.0Z" fill="#c9453b"/>
<path d="M3564.5,225.8C3563.5,225.8 3565.5,237.7 3567.8,249.0C3570.1,260.3 3571.8,269.2 3576.1,282.1C3580.4,295.0 3588.0,313.6 3589.3,313.6C3590.7,313.6 3586.0,295.0 3582.7,282.1C3579.4,269.2 3576.4,260.3 3572.8,249.0C3569.1,237.7 3565.5,225.8 3564.5,225.8Z" fill="#9b2d26"/>
<path d="M3582.7,229.1C3582.1,234.1 3585.0,248.3 3587.7,265.6C3590.3,282.8 3593.0,303.0 3596.0,315.2C3598.9,327.5 3602.3,333.4 3602.6,326.8C3602.9,320.2 3599.9,299.3 3597.6,282.1C3595.3,264.9 3594.0,251.3 3591.0,240.7C3588.0,230.1 3583.4,224.2 3582.7,229.1Z" fill="#9b2d26"/>
<path d="M3552.9,215.9C3550.9,217.9 3547.9,228.1 3546.3,235.8C3544.6,243.4 3543.3,247.7 3544.6,254.0C3546.0,260.3 3551.6,268.9 3552.9,267.2C3554.2,265.6 3550.6,254.0 3551.3,245.7C3551.9,237.4 3555.9,231.8 3556.2,225.8C3556.6,219.9 3554.9,213.9 3552.9,215.9Z" fill="#9b2d26"/>
<path d="M3599.3,232.5C3599.9,230.8 3602.9,249.0 3604.2,265.6C3605.6,282.1 3606.5,313.6 3605.9,315.2C3605.3,316.9 3602.6,290.4 3601.3,273.8C3599.9,257.3 3598.7,234.1 3599.3,232.5Z" fill="#9b2d26"/>
<path d="M3544.6,157.9C3543.0,157.3 3540.0,165.6 3539.7,171.2C3539.3,176.8 3541.0,180.5 3543.0,186.1C3545.0,191.7 3546.3,195.4 3549.6,199.3C3552.9,203.3 3558.9,207.3 3559.5,206.0C3560.2,204.6 3555.2,199.0 3552.9,192.7C3550.6,186.4 3549.6,181.5 3547.9,174.5C3546.3,167.5 3546.3,158.6 3544.6,157.9Z" fill="#9b2d26"/>
<path d="M3572.8,232.5C3572.8,237.4 3574.8,252.3 3577.7,265.6C3580.7,278.8 3586.7,298.7 3587.7,298.7C3588.7,298.7 3584.7,277.2 3582.7,265.6C3580.7,254.0 3579.7,247.4 3577.7,240.7C3575.8,234.1 3572.8,227.5 3572.8,232.5Z" fill="#e26355"/>
<path d="M3591.0,232.5C3590.7,232.5 3594.0,250.7 3596.0,265.6C3597.9,280.5 3600.6,307.0 3600.9,307.0C3601.3,307.0 3599.6,280.5 3597.6,265.6C3595.6,250.7 3591.3,232.5 3591.0,232.5Z" fill="#e26355"/>
<path d="M3559.5,159.6C3557.9,160.9 3555.6,169.5 3556.2,176.2C3556.9,182.8 3558.9,188.1 3562.8,192.7C3566.8,197.4 3575.1,200.7 3576.1,199.3C3577.1,198.0 3570.1,192.1 3567.8,186.1C3565.5,180.1 3566.2,174.8 3564.5,169.5C3562.8,164.2 3561.2,158.3 3559.5,159.6Z" fill="#e26355"/>
<path d="M3553.7,207.6 Q3572.8,215.9 3605.1,223.3" stroke="#6a3214" stroke-width="6" fill="none"/>
<polygon points="3603.1,224.8 3597.6,231.4 3589.1,229.9 3586.2,221.8 3591.7,215.3 3600.2,216.7" fill="#7b3c16" stroke="#c98f55" stroke-width="1.2"/>
<text x="3594.6" y="227.8" font-family="Liberation Serif" font-style="italic" font-weight="bold" font-size="11" text-anchor="middle" fill="#d9a066">S</text>
<polygon points="3605.9,165.4 3616.2,167.9 3617.8,173.7 3611.7,177.8 3606.7,186.1" fill="#7c2b22"/>
<path d="M3606.7,181.1C3607.8,179.5 3610.9,177.8 3612.5,177.8C3614.2,177.8 3616.2,179.2 3616.7,181.1C3617.1,183.1 3616.2,187.6 3615.0,189.4C3613.8,191.2 3610.7,192.2 3609.2,191.9C3607.7,191.6 3606.3,189.5 3605.9,187.7C3605.5,186.0 3605.6,182.8 3606.7,181.1Z" fill="#e6b07e"/>
<path d="M3589.3,128.5C3585.8,129.1 3579.8,131.0 3576.1,132.8C3572.4,134.6 3569.8,137.4 3567.0,139.4C3564.2,141.4 3559.5,143.0 3559.2,145.0C3558.9,147.1 3563.1,149.4 3565.3,151.7C3567.6,153.9 3570.8,155.3 3572.8,158.3C3574.8,161.3 3576.1,165.5 3577.4,169.5C3578.7,173.6 3578.7,179.2 3580.7,182.8C3582.7,186.3 3586.5,190.2 3589.3,190.7C3592.2,191.3 3596.1,188.2 3597.9,186.1C3599.8,183.9 3600.4,181.1 3600.6,177.8C3600.8,174.5 3600.0,169.3 3599.3,166.2C3598.6,163.2 3597.9,161.3 3596.3,159.6C3594.6,157.9 3591.3,157.9 3589.3,156.3C3587.4,154.6 3585.5,151.9 3584.4,149.7C3583.3,147.5 3582.2,145.2 3582.7,143.0C3583.3,140.9 3584.9,138.4 3587.7,136.8C3590.4,135.1 3596.2,133.1 3599.3,133.1C3602.4,133.1 3605.3,137.0 3606.2,136.8C3607.1,136.5 3606.0,132.8 3604.6,131.5C3603.1,130.1 3600.2,129.3 3597.6,128.8C3595.1,128.3 3592.9,127.8 3589.3,128.5Z" fill="#f6f4f1"/>
<path d="M3583.0,140.1C3584.2,138.3 3585.1,137.0 3588.0,135.8C3590.9,134.6 3594.3,133.6 3597.6,134.1C3600.9,134.6 3602.9,135.7 3604.6,138.4C3606.2,141.1 3606.7,144.6 3605.9,147.7C3605.1,150.8 3602.4,151.9 3600.6,154.0C3598.8,156.1 3598.6,157.9 3596.8,158.3C3594.9,158.6 3593.5,157.2 3591.3,155.6C3589.1,154.0 3587.5,152.5 3585.7,150.3C3583.8,148.1 3582.6,146.8 3582.1,144.7C3581.5,142.6 3581.9,141.9 3583.0,140.1Z" fill="#e6b07e"/>
<path d="M3589.3,149.7C3591.0,149.3 3593.7,153.6 3596.0,154.6C3598.2,155.6 3599.9,153.2 3600.6,154.6C3601.3,156.0 3601.2,160.0 3599.6,161.6C3598.0,163.2 3595.0,163.6 3592.6,162.6C3590.3,161.5 3588.3,158.9 3587.7,156.3C3587.0,153.7 3587.7,150.0 3589.3,149.7Z" fill="#f6f4f1"/>
<path d="M3582.7,141.4C3583.9,139.5 3588.3,137.1 3589.3,138.4C3590.3,139.7 3588.8,146.1 3587.7,148.0C3586.5,149.9 3584.5,149.3 3583.5,148.0C3582.5,146.7 3581.6,143.3 3582.7,141.4Z" fill="#c98a55"/>
<path d="M3593.5,143.4 L3602.6,146.7" stroke="#5a3a22" stroke-width="1.3"/>
<circle cx="3532.8" cy="113.5" r="10.3" fill="#d5d7e0" stroke="#f4f5f8" stroke-width="1.3"/>
<path d="M3533.9,123.2 L3541.3,176.2 L3547.1,206.0 L3551.3,249.0 L3553.7,258.9 L3559.5,268.9 L3562.8,290.4 L3563.8,296.2" stroke="#6f3d14" stroke-width="5.6" fill="none" stroke-linejoin="round"/>
<path d="M3533.9,123.2 L3541.3,176.2 L3547.1,206.0 L3551.3,249.0 L3553.7,258.9 L3559.5,268.9 L3562.8,290.4 L3563.8,296.2" stroke="#b8742f" stroke-width="3.4" fill="none" stroke-linejoin="round"/>
<path d="M3530.6,177.8C3532.7,175.7 3536.4,174.3 3539.7,174.5C3543.0,174.7 3545.5,176.0 3547.1,178.6C3548.8,181.3 3549.1,184.4 3547.9,187.7C3546.8,191.1 3544.2,194.2 3541.3,195.2C3538.4,196.2 3535.9,194.7 3533.4,192.7C3530.9,190.7 3529.5,188.2 3528.9,185.3C3528.3,182.3 3528.4,180.0 3530.6,177.8Z" fill="#e6b07e"/>
<path d="M3533.4,182.8 L3546.3,180.8 M3534.4,186.9 L3547.1,184.8" stroke="#a86a3c" stroke-width="1"/>
<text transform="translate(3525.80,59.00) scale(1.0070,1)" font-family="Liberation Serif" font-weight="bold" font-size="41.07" fill="#fff">SAGE</text>
<text transform="translate(3650.70,59.00) scale(1.0846,1)" font-family="Liberation Serif" font-weight="bold" font-size="41.07" fill="#fff">III</text>
<text transform="translate(3731.47,59.00) scale(1.0370,1)" font-family="Liberation Serif" font-weight="bold" font-size="41.07" fill="#fff">ISS</text>
<circle cx="3715.4" cy="45.6" r="4.4" fill="#fff"/>
<text transform="translate(3527.61,72.10) scale(0.9657,1)" font-family="Liberation Sans" font-weight="normal" font-size="9.00" fill="#d7e0ea">Stratospheric Aerosol and Gas Experiment III</text>
<text transform="translate(3736.09,71.80) scale(1.0914,1)" font-family="Liberation Sans" font-weight="normal" font-size="9.00" fill="#d7e0ea">International</text>
<text transform="translate(3733.16,82.90) scale(1.0791,1)" font-family="Liberation Sans" font-weight="normal" font-size="9.00" fill="#d7e0ea">Space Station</text>
<path id="lgarc" d="M3511.30,258.04 A155.8,155.8 0 0 0 3817.16,232.62" fill="none"/>
<text font-family="Liberation Sans" font-weight="bold" font-size="13.4" fill="#fff" textLength="435.3" lengthAdjust="spacing"><textPath href="#lgarc" textLength="435.3" lengthAdjust="spacing">BALL • NASA LANGLEY RESEARCH CENTER • TAS-I • ESA</textPath></text></g>
</g>
</svg>
</body></html>
